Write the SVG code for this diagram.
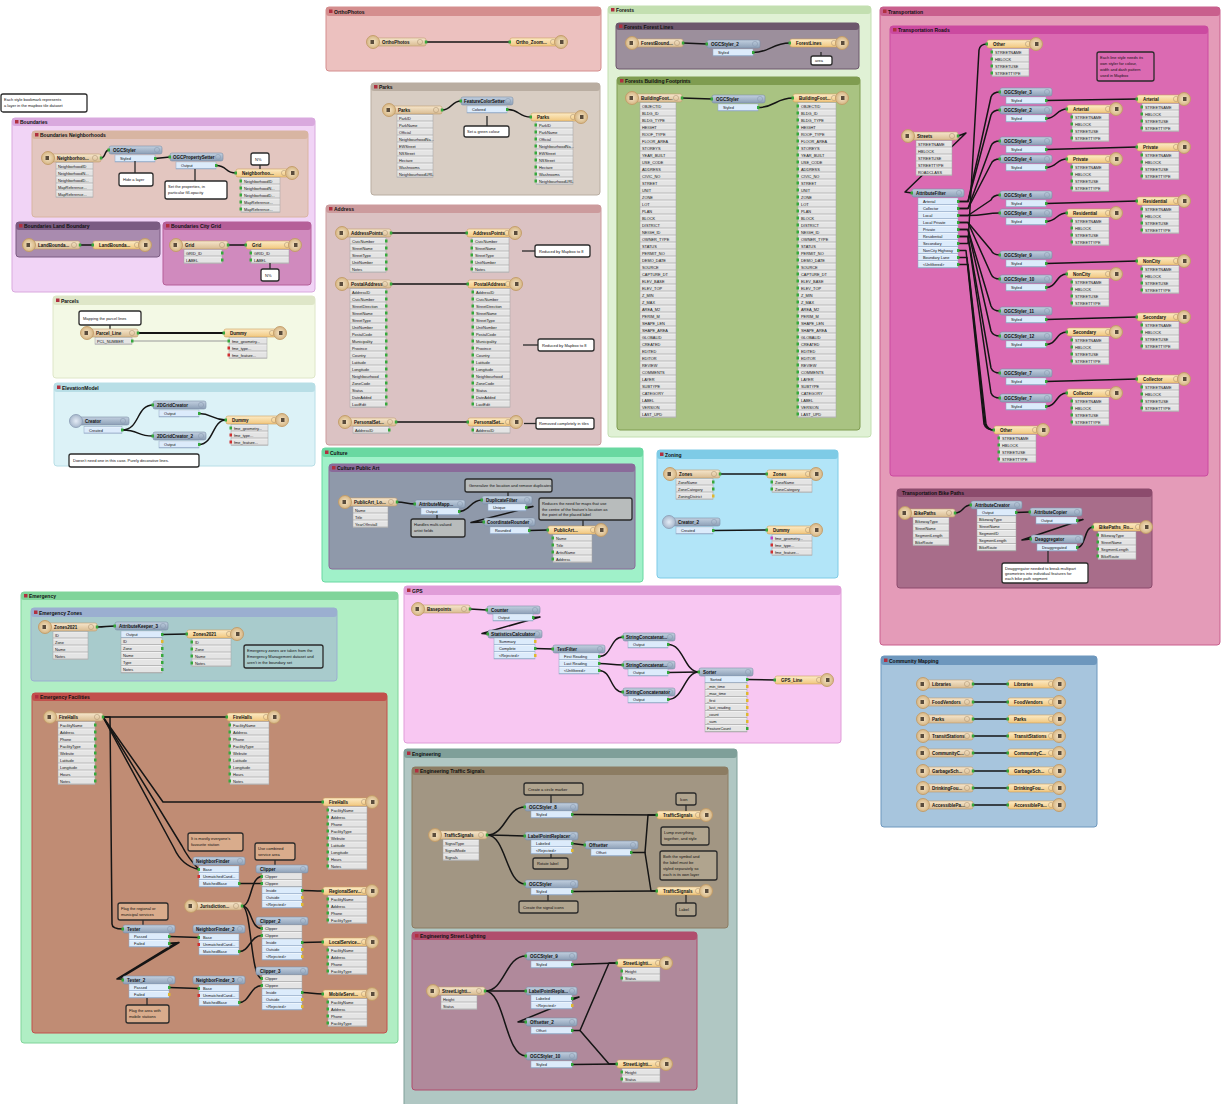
<svg xmlns="http://www.w3.org/2000/svg" width="1225" height="1104" viewBox="0 0 1225 1104">
<defs>
<linearGradient id="gr" x1="0" y1="0" x2="0" y2="1"><stop offset="0" stop-color="#f6e6cc"/><stop offset="1" stop-color="#d9bc92"/></linearGradient>
<linearGradient id="gw" x1="0" y1="0" x2="0" y2="1"><stop offset="0" stop-color="#fcebc6"/><stop offset="1" stop-color="#f1c77e"/></linearGradient>
<radialGradient id="gc"><stop offset="0" stop-color="#f5e4c6"/><stop offset="1" stop-color="#d6b684"/></radialGradient>
<radialGradient id="gcb"><stop offset="0" stop-color="#e4ecf6"/><stop offset="1" stop-color="#a8b8cc"/></radialGradient>
<linearGradient id="gt" x1="0" y1="0" x2="0" y2="1"><stop offset="0" stop-color="#c2d0e0"/><stop offset="1" stop-color="#8c9fb6"/></linearGradient>
<pattern id="pr" width="7" height="7" patternUnits="userSpaceOnUse"><rect width="7" height="7" fill="#e4e4e4"/><rect y="6.3" width="7" height=".7" fill="#a6a6a6"/><rect width="7" height=".6" fill="#fafafa"/></pattern>
<pattern id="pb" width="7" height="7" patternUnits="userSpaceOnUse"><rect width="7" height="7" fill="#dcebfb"/><rect y="6.3" width="7" height=".7" fill="#93aac6"/><rect width="7" height=".6" fill="#f6faff"/></pattern>
<pattern id="pg" width="3" height="7" patternUnits="userSpaceOnUse"><rect y="2" width="3" height="3" fill="#36a83c"/></pattern>
</defs>
<style>
text{font-family:"Liberation Sans",Arial,sans-serif;fill:#111}
.b{font-size:5px;font-weight:bold}
.n{font-size:4.5px;font-weight:bold}
.a{font-size:3.9px}
.at{font-size:4px}
.an{stroke:#2a2a2a;stroke-width:1.3}
.tl{stroke:#2a2a2a;stroke-width:1.3}
.rd{fill:url(#gr);stroke:#c09a6c;stroke-width:.6}
.wr{fill:url(#gw);stroke:#cf9f5a;stroke-width:.6}
.ci{fill:url(#gc);stroke:#c29b66;stroke-width:.9}
.cb{fill:url(#gcb);stroke:#8ea0b8;stroke-width:.9}
.th{fill:url(#gt);stroke:#7c8ea6;stroke-width:.6}
.ic{fill:#5a4c3c}
.k{fill:none;stroke:#b39a78;stroke-width:.6}
.kt{fill:none;stroke:#8c9cb2;stroke-width:.6}
.g{fill:#36a83c}
.ro{fill:url(#pr);stroke:#a3a3a3;stroke-width:.5}
.bo{fill:url(#pb);stroke:#8fa6c2;stroke-width:.5}
.pg{fill:url(#pg)}
.py{fill:#e0b830}
.pr{fill:#d03030}
.pm{fill:#c040c0}
.bi{fill:#b03040}
</style>

<g id="bookmarks">
<g id="bm-boundaries"><rect x="12" y="118" width="303" height="174" rx="3" fill="#f1d4f6" stroke="#d9a9de"/><rect x="12" y="118" width="303" height="8" rx="3" fill="#d9a9de"/><rect class="bi" x="15" y="120" width="3.5" height="3.5"/><text class="b" x="20" y="124">Boundaries</text></g>
<g id="bm-neighborhoods"><rect x="32" y="131" width="276" height="86" rx="3" fill="#e3c6c0" stroke="#d8b5a2"/><rect x="32" y="131" width="276" height="8" rx="3" fill="#d8b5a2"/><rect class="bi" x="35" y="133" width="3.5" height="3.5"/><text class="b" x="40" y="137">Boundaries Neighborhoods</text></g>
<g id="bm-landboundary"><rect x="16" y="222" width="144" height="35" rx="3" fill="#a98baf" stroke="#7b5b82"/><rect x="16" y="222" width="144" height="8" rx="3" fill="#7b5b82"/><rect class="bi" x="19" y="224" width="3.5" height="3.5"/><text class="b" x="24" y="228">Boundaries Land Boundary</text></g>
<g id="bm-citygrid"><rect x="163" y="222" width="148" height="63" rx="3" fill="#d08abe" stroke="#b55f99"/><rect x="163" y="222" width="148" height="8" rx="3" fill="#b55f99"/><rect class="bi" x="166" y="224" width="3.5" height="3.5"/><text class="b" x="171" y="228">Boundaries City Grid</text></g>
<g id="bm-parcels"><rect x="53" y="296" width="262" height="82" rx="3" fill="#f3f9e5" stroke="#dee6c8"/><rect x="53" y="296" width="262" height="9" rx="3" fill="#dee6c8"/><rect class="bi" x="56" y="298.5" width="3.5" height="3.5"/><text class="b" x="61" y="302.5">Parcels</text></g>
<g id="bm-elevation"><rect x="54" y="383" width="261" height="83" rx="3" fill="#dcf2f7" stroke="#b8dee6"/><rect x="54" y="383" width="261" height="9" rx="3" fill="#b8dee6"/><rect class="bi" x="57" y="385.5" width="3.5" height="3.5"/><text class="b" x="62" y="389.5">ElevationModel</text></g>
<g id="bm-ortho"><rect x="326" y="7" width="275" height="64" rx="3" fill="#ecc1bf" stroke="#d48e8e"/><rect x="326" y="7" width="275" height="9" rx="3" fill="#d48e8e"/><rect class="bi" x="329" y="9.5" width="3.5" height="3.5"/><text class="b" x="334" y="13.5">OrthoPhotos</text></g>
<g id="bm-parks"><rect x="371" y="83" width="229" height="112" rx="3" fill="#d8cdc3" stroke="#b9ada1"/><rect x="371" y="83" width="229" height="8" rx="3" fill="#b9ada1"/><rect class="bi" x="374" y="85" width="3.5" height="3.5"/><text class="b" x="379" y="89">Parks</text></g>
<g id="bm-address"><rect x="326" y="205" width="275" height="240" rx="3" fill="#dbc2c3" stroke="#cc9b9d"/><rect x="326" y="205" width="275" height="8" rx="3" fill="#cc9b9d"/><rect class="bi" x="329" y="207" width="3.5" height="3.5"/><text class="b" x="334" y="211">Address</text></g>
<g id="bm-forests"><rect x="608" y="6" width="263" height="431" rx="3" fill="#e0f1d5" stroke="#c3dfb1"/><rect x="608" y="6" width="263" height="8" rx="3" fill="#c3dfb1"/><rect class="bi" x="611" y="8" width="3.5" height="3.5"/><text class="b" x="616" y="12">Forests</text></g>
<g id="bm-forestlines"><rect x="616" y="23" width="243" height="46" rx="3" fill="#9c8f9c" stroke="#6d576d"/><rect x="616" y="23" width="243" height="7" rx="3" fill="#6d576d"/><rect class="bi" x="619" y="24.5" width="3.5" height="3.5"/><text class="b" x="624" y="28.5">Forests Forest Lines</text></g>
<g id="bm-footprints"><rect x="617" y="77" width="243" height="353" rx="3" fill="#a9c382" stroke="#7f9c50"/><rect x="617" y="77" width="243" height="8" rx="3" fill="#7f9c50"/><rect class="bi" x="620" y="79" width="3.5" height="3.5"/><text class="b" x="625" y="83">Forests Building Footprints</text></g>
<g id="bm-transport"><rect x="880" y="7" width="340" height="638" rx="3" fill="#e49bb8" stroke="#c95f8d"/><rect x="880" y="7" width="340" height="9" rx="3" fill="#c95f8d"/><rect class="bi" x="883" y="9.5" width="3.5" height="3.5"/><text class="b" x="888" y="13.5">Transportation</text></g>
<g id="bm-roads"><rect x="890" y="26" width="318" height="450" rx="3" fill="#db6ab2" stroke="#cb4aa0"/><rect x="890" y="26" width="318" height="8" rx="3" fill="#cb4aa0"/><rect class="bi" x="893" y="28" width="3.5" height="3.5"/><text class="b" x="898" y="32">Transportation Roads</text></g>
<g id="bm-bike"><rect x="897" y="489" width="255" height="99" rx="3" fill="#a86d8a" stroke="#8c4b6d"/><rect x="897" y="489" width="255" height="8" rx="3" fill="#8c4b6d"/><text class="b" x="902" y="495" fill="#5a1830">Transportation Bike Paths</text></g>
<g id="bm-culture"><rect x="322" y="448" width="321" height="134" rx="3" fill="#a0f1c9" stroke="#69d8a1"/><rect x="322" y="448" width="321" height="9" rx="3" fill="#69d8a1"/><rect class="bi" x="325" y="450.5" width="3.5" height="3.5"/><text class="b" x="330" y="454.5">Culture</text></g>
<g id="bm-publicart"><rect x="329" y="464" width="306" height="105" rx="3" fill="#8f99aa" stroke="#8a6b9a"/><rect x="329" y="464" width="306" height="8" rx="3" fill="#8a6b9a"/><rect class="bi" x="332" y="466" width="3.5" height="3.5"/><text class="b" x="337" y="470">Culture Public Art</text></g>
<g id="bm-zoning"><rect x="657" y="450" width="181" height="128" rx="3" fill="#b2e5f8" stroke="#7ecbe6"/><rect x="657" y="450" width="181" height="9" rx="3" fill="#7ecbe6"/><rect class="bi" x="660" y="452.5" width="3.5" height="3.5"/><text class="b" x="665" y="456.5">Zoning</text></g>
<g id="bm-emergency"><rect x="21" y="592" width="377" height="451" rx="3" fill="#b0eec4" stroke="#80d49a"/><rect x="21" y="592" width="377" height="8" rx="3" fill="#80d49a"/><rect class="bi" x="24" y="594" width="3.5" height="3.5"/><text class="b" x="29" y="598">Emergency</text></g>
<g id="bm-ezones"><rect x="31" y="608" width="306" height="73" rx="3" fill="#a8cbcc" stroke="#9bafd0"/><rect x="31" y="608" width="306" height="9" rx="3" fill="#9bafd0"/><rect class="bi" x="34" y="610.5" width="3.5" height="3.5"/><text class="b" x="39" y="614.5">Emergency Zones</text></g>
<g id="bm-efacilities"><rect x="32" y="693" width="355" height="340" rx="3" fill="#c08c74" stroke="#c2504c"/><rect x="32" y="693" width="355" height="8" rx="3" fill="#c2504c"/><rect class="bi" x="35" y="695" width="3.5" height="3.5"/><text class="b" x="40" y="699">Emergency Facilities</text></g>
<g id="bm-gps"><rect x="404" y="586" width="437" height="157" rx="3" fill="#f8c7f2" stroke="#e09dd8"/><rect x="404" y="586" width="437" height="9" rx="3" fill="#e09dd8"/><rect class="bi" x="407" y="588.5" width="3.5" height="3.5"/><text class="b" x="412" y="592.5">GPS</text></g>
<g id="bm-engineering"><rect x="404" y="749" width="333" height="360" rx="3" fill="#b0c7c3" stroke="#7f9f99"/><rect x="404" y="749" width="333" height="9" rx="3" fill="#7f9f99"/><rect class="bi" x="407" y="751.5" width="3.5" height="3.5"/><text class="b" x="412" y="755.5">Engineering</text></g>
<g id="bm-signals"><rect x="412" y="767" width="316" height="161" rx="3" fill="#a29683" stroke="#8c7c62"/><rect x="412" y="767" width="316" height="8" rx="3" fill="#8c7c62"/><rect class="bi" x="415" y="769" width="3.5" height="3.5"/><text class="b" x="420" y="773">Engineering Traffic Signals</text></g>
<g id="bm-lighting"><rect x="412" y="932" width="285" height="158" rx="3" fill="#b0899b" stroke="#b04d6d"/><rect x="412" y="932" width="285" height="8" rx="3" fill="#b04d6d"/><rect class="bi" x="415" y="934" width="3.5" height="3.5"/><text class="b" x="420" y="938">Engineering Street Lighting</text></g>
<g id="bm-community"><rect x="881" y="656" width="216" height="171" rx="3" fill="#a7c5dd" stroke="#6d97bd"/><rect x="881" y="656" width="216" height="9" rx="3" fill="#6d97bd"/><rect class="bi" x="884" y="658.5" width="3.5" height="3.5"/><text class="b" x="889" y="662.5">Community Mapping</text></g>
</g>

<g id="connectors" fill="none" stroke="#151515" stroke-width="1.5" stroke-linejoin="round" stroke-linecap="round">
<path d="M101,158 C106,158 104,150 109,150"/>
<path d="M155,158.5 L170,157"/>
<path d="M216,165.5 C228,165.5 224,173 236,173"/>
<path d="M80,245 L93,245"/>
<path d="M228,245 L246,245"/>
<path d="M138,333 L224,333" stroke-width="2.2"/>
<path d="M132,341 L229,341" stroke="#9a9a9a" stroke-width="1.2"/>
<path d="M122,430 C140,430 136,405 153,405"/>
<path d="M122,430 C140,430 136,436 153,436"/>
<path d="M199,413.5 C212,413.5 212,420 226,420"/>
<path d="M199,444.5 C214,444.5 212,420 226,420"/>
<path d="M426,42 L510,42"/>
<path d="M442,110 C452,110 451,101 461,101"/>
<path d="M507,109.5 C520,109.5 518,117 531,117"/>
<path d="M391,233 L467,233"/>
<path d="M391,284 L468,284"/>
<path d="M396,422 L468,422"/>
<path d="M683,43 L707,44"/>
<path d="M753,52.5 C770,52.5 772,43 790,43"/>
<path d="M682,98 L712,99"/>
<path d="M758,107.5 C775,107.5 776,98 793,98"/>
<path d="M958,136 L966,133 L905,192 L912,193"/>
<path d="M958,201.5 L968,201.5 L991,97 Q993,92 1000,92"/>
<path d="M958,201.5 L968,201.5 L991,115 Q993,110 1000,110"/>
<path d="M958,208.5 L968,208.5 L991,146 Q993,141 1000,141"/>
<path d="M958,208.5 L968,208.5 L991,164 Q993,159 1000,159"/>
<path d="M958,215.5 L968,215.5 L991,200 Q993,195 1000,195"/>
<path d="M958,215.5 L968,215.5 C985,215.5 985,213 1000,213"/>
<path d="M958,222.5 L968,222.5 L991,250 Q993,255 1000,255"/>
<path d="M958,222.5 L968,222.5 L991,274 Q993,279 1000,279"/>
<path d="M958,229.5 L968,229.5 L991,306 Q993,311 1000,311"/>
<path d="M958,229.5 L968,229.5 L991,331 Q993,336 1000,336"/>
<path d="M958,236.5 L968,236.5 L991,368 Q993,373 1000,373"/>
<path d="M958,236.5 L968,236.5 L991,393 Q993,398 1000,398"/>
<path d="M958,243.5 L968,243.5 L979,50 Q980,44 987,44"/>
<path d="M958,250.5 L966,250.5 L984,424 Q986,430 994,430"/>
<path d="M958,257.5 L967,257.5 L985,424 Q987,430 994,430"/>
<path d="M958,264.5 L968,264.5 L986,424 Q988,430 994,430"/>
<path d="M1046,100.5 L1137,99"/>
<path d="M1046,118.5 C1057,118.5 1056,109 1067,109"/>
<path d="M1046,149.5 L1137,147"/>
<path d="M1046,167.5 C1057,167.5 1056,159 1067,159"/>
<path d="M1046,203.5 L1137,201"/>
<path d="M1046,221.5 C1057,221.5 1056,213 1067,213"/>
<path d="M1046,263.5 L1137,261"/>
<path d="M1046,287.5 C1057,287.5 1056,274 1067,274"/>
<path d="M1046,319.5 L1137,317"/>
<path d="M1046,344.5 C1057,344.5 1056,332 1067,332"/>
<path d="M1046,381.5 L1137,379"/>
<path d="M1046,406.5 C1057,406.5 1056,393 1067,393"/>
<path d="M955,513 C964,513 962,505 971,505"/>
<path d="M1016,512.5 L1030,512"/>
<path d="M1077,520.5 L1083,519.5 L1022,540 L1031,539"/>
<path d="M1077,547.5 C1086,547.5 1084,527 1093,527"/>
<path d="M397,502 C406,502 406,504 415,504"/>
<path d="M459,511.5 C470,511.5 470,500 482,500"/>
<path d="M526,507.5 L533,506.5 L471,522.5 L484,522"/>
<path d="M529,530.5 L548,530"/>
<path d="M720,474 L767,474"/>
<path d="M713,530.5 L767,530"/>
<path d="M97,627 C106,627 106,626 115,626"/>
<path d="M162,634.5 L187,634"/>
<path d="M103,717 L227,717"/>
<path d="M103,717 L110,717 L112,924 Q112,929 123,929"/>
<path d="M103,717 L163,802 L323,802"/>
<path d="M103,717 L182,846 Q188,858 199,869.5"/>
<path d="M103,717 L174,848 Q182,866 199,869.5"/>
<path d="M239,883.5 L262,883.5"/>
<path d="M242,906 C252,906 250,876.5 262,876.5"/>
<path d="M242,906 C252,906 250,928.5 262,928.5"/>
<path d="M242,906 C252,906 250,978.5 262,978.5"/>
<path d="M169,936.5 L199,937.5"/>
<path d="M169,943.5 L176,943 L117,979 L123,979"/>
<path d="M169,943.5 L179,942.5 L121,977.5"/>
<path d="M169,987.5 L199,988.5"/>
<path d="M239,951.5 C250,951.5 250,935.5 262,935.5"/>
<path d="M239,1002.5 C250,1002.5 250,985.5 262,985.5"/>
<path d="M302,890.5 C312,890.5 312,891 323,891"/>
<path d="M302,942.5 L323,942"/>
<path d="M302,992.5 C312,992.5 312,994 323,994"/>
<path d="M470,609 L487,610"/>
<path d="M533,617.5 L540,617 L482,633.5 L488,634"/>
<path d="M535,648.5 L553,649"/>
<path d="M599,656.5 C612,656.5 610,637 623,637"/>
<path d="M599,663.5 C611,663.5 611,665 623,665"/>
<path d="M599,670.5 C612,670.5 610,692 623,692"/>
<path d="M668,644.5 C684,644.5 684,672 699,672"/>
<path d="M668,672.5 L699,672"/>
<path d="M668,699.5 C684,699.5 684,672 699,672"/>
<path d="M747,679.5 L775,680"/>
<path d="M487,835 C506,835 506,807 525,807"/>
<path d="M487,835 L525,836"/>
<path d="M487,835 C506,835 506,884 525,884"/>
<path d="M572,814.5 L657,815"/>
<path d="M572,843.5 L585,845"/>
<path d="M631,852.5 L645,852.5 L648,815 L657,815"/>
<path d="M645,852.5 L651,891 L657,891"/>
<path d="M572,891.5 L657,891"/>
<path d="M485,991 C505,991 505,956 526,956"/>
<path d="M485,991 L526,991"/>
<path d="M485,991 C505,991 505,1056 526,1056"/>
<path d="M572,998.5 L579,997 L518,1022 L526,1022"/>
<path d="M572,964.5 L617,963"/>
<path d="M572,1064.5 L617,1064"/>
<path d="M572,1030.5 L580,1030.5 L609,963 L617,963"/>
<path d="M580,1030.5 L609,1064 L617,1064"/>
<path d="M973,684 L1008,684"/>
<path d="M973,702 L1008,702"/>
<path d="M973,719 L1008,719"/>
<path d="M973,736 L1008,736"/>
<path d="M973,753 L1008,753"/>
<path d="M973,771 L1008,771"/>
<path d="M973,788 L1008,788"/>
<path d="M973,805 L1008,805"/>
</g>

<g id="note-top"><rect class="an" x="1" y="94" width="86" height="18" rx="2" fill="#fff"/><text class="at" x="4" y="101">Each style bookmark represents</text><text class="at" x="4" y="107">a layer in the mapbox tile dataset</text></g>

<g id="r-neighborhoods" transform="translate(48,158)"><rect class="rd" x="3" y="-4" width="50" height="8" rx="2"/><circle class="k" cx="47" r="2.6"/><circle class="ci" r="6.5"/><rect class="ic" x="-2.5" y="-2" width="3.5" height="4"/><text class="n" x="9" y="1.7">Neighborhoo...</text><rect class="g" x="51.8" y="-1.5" width="2.5" height="3"/><g transform="translate(8,4.5)"><rect class="ro" width="37" height="35"/><text class="a" x="2" y="5">NeighborhoodID<tspan x="2" dy="7">NeighborhoodN...</tspan><tspan x="2" dy="7">NeighborhoodD...</tspan><tspan x="2" dy="7">MapReference...</tspan><tspan x="2" dy="7">MapReference...</tspan></text></g></g>
<g id="t-ogcstyler-nb" transform="translate(109,146)"><rect class="th" width="53" height="8" rx="2"/><circle class="kt" cx="48" cy="4" r="2.6"/><text class="n" x="4" y="5.7">OGCStyler</text><rect class="g" x="-1.5" y="2.5" width="2.5" height="3"/><g transform="translate(6,9)"><rect class="bo" width="40" height="7"/><rect class="pg" x="39" width="2.5" height="7"/><text class="a" x="5" y="5">Styled</text></g></g>
<g id="t-propsetter-nb" transform="translate(170,153)"><rect class="th" width="53" height="8" rx="2"/><circle class="kt" cx="48" cy="4" r="2.6"/><text class="n" x="3" y="5.7">OGCPropertySetter</text><rect class="g" x="-1.5" y="2.5" width="2.5" height="3"/><g transform="translate(6,9)"><rect class="bo" width="40" height="7"/><rect class="pg" x="39" width="2.5" height="7"/><text class="a" x="5" y="5">Output</text></g></g>
<g id="w-neighborhoods" transform="translate(236,173)"><rect class="wr" y="-4" width="52" height="8" rx="2"/><circle class="k" cx="48" r="2.6"/><circle class="ci" cx="56" r="6.5"/><rect class="ic" x="55" y="-2" width="3.5" height="4"/><text class="n" x="6" y="1.7">Neighborhoo...</text><rect class="g" x="-1.5" y="-1.5" width="2.5" height="3"/><g transform="translate(5,4.5)"><rect class="ro" width="39" height="35"/><rect class="pg" x="-1.5" width="2.5" height="35"/><text class="a" x="3" y="5">NeighborhoodID<tspan x="3" dy="7">NeighborhoodN...</tspan><tspan x="3" dy="7">NeighborhoodD...</tspan><tspan x="3" dy="7">MapReference...</tspan><tspan x="3" dy="7">MapReference...</tspan></text></g></g>
<g id="note-nb-pct"><line class="tl" x1="260" y1="165" x2="260" y2="169"/><rect class="an" x="251" y="153" width="18" height="12" rx="2" fill="#fff"/><text class="at" x="255" y="160.5">N%</text></g>
<g id="note-nb-hide"><line class="tl" x1="135" y1="173" x2="135" y2="161"/><rect class="an" x="119" y="173" width="34" height="13" rx="2" fill="#fff"/><text class="at" x="123" y="181">Hide a layer</text></g>
<g id="note-nb-props"><line class="tl" x1="195" y1="181" x2="195" y2="169"/><rect class="an" x="165" y="181" width="62" height="18" rx="2" fill="#fff"/><text class="at" x="168" y="188">Set the properties, in</text><text class="at" x="168" y="194">particular fill-opacity</text></g>

<g id="r-landboundary" transform="translate(29,245)"><rect class="rd" x="3" y="-4" width="48" height="8" rx="2"/><circle class="k" cx="45" r="2.6"/><circle class="ci" r="6.5"/><rect class="ic" x="-2.5" y="-2" width="3.5" height="4"/><text class="n" x="9" y="1.7">LandBounda...</text><rect class="g" x="49.8" y="-1.5" width="2.5" height="3"/></g>
<g id="w-landboundary" transform="translate(93,245)"><rect class="wr" y="-4" width="48" height="8" rx="2"/><circle class="k" cx="44" r="2.6"/><circle class="ci" cx="52" r="6.5"/><rect class="ic" x="51" y="-2" width="3.5" height="4"/><text class="n" x="6" y="1.7">LandBounda...</text><rect class="g" x="-1.5" y="-1.5" width="2.5" height="3"/></g>

<g id="r-grid" transform="translate(176,245)"><rect class="rd" x="3" y="-4" width="49" height="8" rx="2"/><circle class="k" cx="46" r="2.6"/><circle class="ci" r="6.5"/><rect class="ic" x="-2.5" y="-2" width="3.5" height="4"/><text class="n" x="9" y="1.7">Grid</text><rect class="g" x="50.8" y="-1.5" width="2.5" height="3"/><g transform="translate(8,4.5)"><rect class="ro" width="38" height="14"/><rect class="pg" x="37" width="2.5" height="14"/><text class="a" x="2" y="5">GRID_ID<tspan x="2" dy="7">LABEL</tspan></text></g></g>
<g id="w-grid" transform="translate(246,245)"><rect class="wr" y="-4" width="45" height="8" rx="2"/><circle class="k" cx="41" r="2.6"/><circle class="ci" cx="49" r="6.5"/><rect class="ic" x="48" y="-2" width="3.5" height="4"/><text class="n" x="6" y="1.7">Grid</text><rect class="g" x="-1.5" y="-1.5" width="2.5" height="3"/><g transform="translate(5,4.5)"><rect class="ro" width="38" height="14"/><rect class="pg" x="-1.5" width="2.5" height="14"/><text class="a" x="3" y="5">GRID_ID<tspan x="3" dy="7">LABEL</tspan></text></g></g>
<g id="note-grid-pct"><line class="tl" x1="270" y1="263" x2="270" y2="269"/><rect class="an" x="261" y="269" width="18" height="12" rx="2" fill="#fff"/><text class="at" x="265" y="276.5">N%</text></g>

<g id="note-parcels"><line class="tl" x1="110" y1="325" x2="110" y2="329"/><rect class="an" x="79" y="311" width="62" height="14" rx="2" fill="#fff"/><text class="at" x="83" y="319.5">Mapping the parcel lines</text></g>
<g id="r-parcel-line" transform="translate(87,333)"><rect class="rd" x="3" y="-4" width="48" height="8" rx="2"/><circle class="k" cx="45" r="2.6"/><circle class="ci" r="6.5"/><rect class="ic" x="-2.5" y="-2" width="3.5" height="4"/><text class="n" x="9" y="1.7">Parcel_Line</text><rect class="g" x="49.8" y="-1.5" width="2.5" height="3"/><g transform="translate(8,4.5)"><rect class="ro" width="37" height="7"/><rect class="pg" x="36" width="2.5" height="7"/><text class="a" x="2" y="5">PCL_NUMBER</text></g></g>
<g id="w-parcels" transform="translate(224,333)"><rect class="wr" y="-4" width="52" height="8" rx="2"/><circle class="k" cx="48" r="2.6"/><circle class="ci" cx="56" r="6.5"/><rect class="ic" x="55" y="-2" width="3.5" height="4"/><text class="n" x="6" y="1.7">Dummy</text><rect class="g" x="-1.5" y="-1.5" width="2.5" height="3"/><g transform="translate(5,4.5)"><rect class="ro" width="38" height="21"/><rect class="g" x="-1.5" y="2" width="2.5" height="3"/><rect class="pr" x="-1.5" y="9" width="2.5" height="3"/><rect class="pr" x="-1.5" y="16" width="2.5" height="3"/><text class="a" x="3" y="5">fme_geometry...<tspan x="3" dy="7">fme_type...</tspan><tspan x="3" dy="7">fme_feature...</tspan></text></g></g>

<g id="t-creator" transform="translate(76,421)"><rect class="th" x="3" y="-4" width="50" height="8" rx="2"/><circle class="kt" cx="47" r="2.6"/><circle class="cb" r="6.5"/><text class="n" x="9" y="1.7">Creator</text><g transform="translate(8,5.5)"><rect class="bo" width="38" height="7"/><rect class="pg" x="37" width="2.5" height="7"/><text class="a" x="5" y="5">Created</text></g></g>
<g id="t-gridcreator" transform="translate(153,401)"><rect class="th" width="53" height="8" rx="2"/><circle class="kt" cx="48" cy="4" r="2.6"/><text class="n" x="4" y="5.7">2DGridCreator</text><rect class="g" x="-1.5" y="2.5" width="2.5" height="3"/><g transform="translate(6,9)"><rect class="bo" width="40" height="7"/><rect class="pg" x="39" width="2.5" height="7"/><text class="a" x="5" y="5">Output</text></g></g>
<g id="t-gridcreator2" transform="translate(153,432)"><rect class="th" width="53" height="8" rx="2"/><circle class="kt" cx="48" cy="4" r="2.6"/><text class="n" x="4" y="5.7">2DGridCreator_2</text><rect class="g" x="-1.5" y="2.5" width="2.5" height="3"/><g transform="translate(6,9)"><rect class="bo" width="40" height="7"/><rect class="pg" x="39" width="2.5" height="7"/><text class="a" x="5" y="5">Output</text></g></g>
<g id="w-elevation" transform="translate(226,420)"><rect class="wr" y="-4" width="52" height="8" rx="2"/><circle class="k" cx="48" r="2.6"/><circle class="ci" cx="56" r="6.5"/><rect class="ic" x="55" y="-2" width="3.5" height="4"/><text class="n" x="6" y="1.7">Dummy</text><rect class="g" x="-1.5" y="-1.5" width="2.5" height="3"/><g transform="translate(5,4.5)"><rect class="ro" width="37" height="21"/><rect class="g" x="-1.5" y="2" width="2.5" height="3"/><rect class="pr" x="-1.5" y="9" width="2.5" height="3"/><rect class="pr" x="-1.5" y="16" width="2.5" height="3"/><text class="a" x="3" y="5">fme_geometry...<tspan x="3" dy="7">fme_type...</tspan><tspan x="3" dy="7">fme_feature...</tspan></text></g></g>
<g id="note-elevation"><rect class="an" x="69" y="454" width="130" height="13" rx="2" fill="#fff"/><text class="at" x="73" y="462">Doesn't need one in this case. Purely decorative lines.</text></g>

<g id="r-ortho" transform="translate(373,42)"><rect class="rd" x="3" y="-4" width="50" height="8" rx="2"/><circle class="k" cx="47" r="2.6"/><circle class="ci" r="6.5"/><rect class="ic" x="-2.5" y="-2" width="3.5" height="4"/><text class="n" x="9" y="1.7">OrthoPhotos</text><rect class="g" x="51.8" y="-1.5" width="2.5" height="3"/></g>
<g id="w-ortho" transform="translate(510,42)"><rect class="wr" y="-4" width="47" height="8" rx="2"/><circle class="k" cx="43" r="2.6"/><circle class="ci" cx="51" r="6.5"/><rect class="ic" x="50" y="-2" width="3.5" height="4"/><text class="n" x="6" y="1.7">Ortho_Zoom...</text><rect class="g" x="-1.5" y="-1.5" width="2.5" height="3"/></g>

<g id="r-parks" transform="translate(389,110)"><rect class="rd" x="3" y="-4" width="50" height="8" rx="2"/><circle class="k" cx="47" r="2.6"/><circle class="ci" r="6.5"/><rect class="ic" x="-2.5" y="-2" width="3.5" height="4"/><text class="n" x="9" y="1.7">Parks</text><rect class="g" x="51.8" y="-1.5" width="2.5" height="3"/><g transform="translate(8,4.5)"><rect class="ro" width="36" height="63"/><text class="a" x="2" y="5">ParkID<tspan x="2" dy="7">ParkName</tspan><tspan x="2" dy="7">Official</tspan><tspan x="2" dy="7">NeighbourhoodNa...</tspan><tspan x="2" dy="7">EWStreet</tspan><tspan x="2" dy="7">NSStreet</tspan><tspan x="2" dy="7">Hectare</tspan><tspan x="2" dy="7">Washrooms</tspan><tspan x="2" dy="7">NeighbourhoodURL</tspan></text></g></g>
<g id="t-parkcolor" transform="translate(461,97)"><rect class="th" width="52" height="8" rx="2"/><circle class="kt" cx="47" cy="4" r="2.6"/><text class="n" x="3" y="5.7">FeatureColorSetter</text><rect class="g" x="-1.5" y="2.5" width="2.5" height="3"/><g transform="translate(6,9)"><rect class="bo" width="40" height="7"/><rect class="pg" x="39" width="2.5" height="7"/><text class="a" x="5" y="5">Colored</text></g></g>
<g id="w-parks" transform="translate(531,117)"><rect class="wr" y="-4" width="46" height="8" rx="2"/><circle class="k" cx="42" r="2.6"/><circle class="ci" cx="50" r="6.5"/><rect class="ic" x="49" y="-2" width="3.5" height="4"/><text class="n" x="6" y="1.7">Parks</text><rect class="g" x="-1.5" y="-1.5" width="2.5" height="3"/><g transform="translate(5,4.5)"><rect class="ro" width="37" height="63"/><rect class="pg" x="-1.5" width="2.5" height="63"/><text class="a" x="3" y="5">ParkID<tspan x="3" dy="7">ParkName</tspan><tspan x="3" dy="7">Official</tspan><tspan x="3" dy="7">NeighbourhoodNa...</tspan><tspan x="3" dy="7">EWStreet</tspan><tspan x="3" dy="7">NSStreet</tspan><tspan x="3" dy="7">Hectare</tspan><tspan x="3" dy="7">Washrooms</tspan><tspan x="3" dy="7">NeighbourhoodURL</tspan></text></g></g>
<g id="note-parks"><line class="tl" x1="487" y1="126" x2="487" y2="116"/><rect class="an" x="464" y="126" width="45" height="11" rx="2" fill="#fff"/><text class="at" x="467" y="133">Set a green colour</text></g>

<g id="r-addresspoints" transform="translate(342,233)"><rect class="rd" x="3" y="-4" width="46" height="8" rx="2"/><circle class="k" cx="43" r="2.6"/><circle class="ci" r="6.5"/><rect class="ic" x="-2.5" y="-2" width="3.5" height="4"/><text class="n" x="9" y="1.7">AddressPoints</text><rect class="g" x="47.8" y="-1.5" width="2.5" height="3"/><g transform="translate(8,4.5)"><rect class="ro" width="36" height="35"/><rect class="pg" x="35" width="2.5" height="35"/><text class="a" x="2" y="5">CivicNumber<tspan x="2" dy="7">StreetName</tspan><tspan x="2" dy="7">StreetType</tspan><tspan x="2" dy="7">UnitNumber</tspan><tspan x="2" dy="7">Notes</tspan></text></g></g>
<g id="w-addresspoints" transform="translate(467,233)"><rect class="wr" y="-4" width="44" height="8" rx="2"/><circle class="k" cx="40" r="2.6"/><circle class="ci" cx="48" r="6.5"/><rect class="ic" x="47" y="-2" width="3.5" height="4"/><text class="n" x="6" y="1.7">AddressPoints</text><rect class="g" x="-1.5" y="-1.5" width="2.5" height="3"/><g transform="translate(5,4.5)"><rect class="ro" width="37" height="35"/><rect class="pg" x="-1.5" width="2.5" height="35"/><text class="a" x="3" y="5">CivicNumber<tspan x="3" dy="7">StreetName</tspan><tspan x="3" dy="7">StreetType</tspan><tspan x="3" dy="7">UnitNumber</tspan><tspan x="3" dy="7">Notes</tspan></text></g></g>
<g id="r-postaladdress" transform="translate(342,284)"><rect class="rd" x="3" y="-4" width="46" height="8" rx="2"/><circle class="k" cx="43" r="2.6"/><circle class="ci" r="6.5"/><rect class="ic" x="-2.5" y="-2" width="3.5" height="4"/><text class="n" x="9" y="1.7">PostalAddress</text><rect class="g" x="47.8" y="-1.5" width="2.5" height="3"/><g transform="translate(8,4.5)"><rect class="ro" width="36" height="119"/><rect class="pg" x="35" width="2.5" height="119"/><text class="a" x="2" y="5">AddressID<tspan x="2" dy="7">CivicNumber</tspan><tspan x="2" dy="7">StreetDirection</tspan><tspan x="2" dy="7">StreetName</tspan><tspan x="2" dy="7">StreetType</tspan><tspan x="2" dy="7">UnitNumber</tspan><tspan x="2" dy="7">PostalCode</tspan><tspan x="2" dy="7">Municipality</tspan><tspan x="2" dy="7">Province</tspan><tspan x="2" dy="7">Country</tspan><tspan x="2" dy="7">Latitude</tspan><tspan x="2" dy="7">Longitude</tspan><tspan x="2" dy="7">Neighbourhood</tspan><tspan x="2" dy="7">ZoneCode</tspan><tspan x="2" dy="7">Status</tspan><tspan x="2" dy="7">DateAdded</tspan><tspan x="2" dy="7">LastEdit</tspan></text></g></g>
<g id="w-postaladdress" transform="translate(468,284)"><rect class="wr" y="-4" width="44" height="8" rx="2"/><circle class="k" cx="40" r="2.6"/><circle class="ci" cx="48" r="6.5"/><rect class="ic" x="47" y="-2" width="3.5" height="4"/><text class="n" x="6" y="1.7">PostalAddress</text><rect class="g" x="-1.5" y="-1.5" width="2.5" height="3"/><g transform="translate(5,4.5)"><rect class="ro" width="37" height="119"/><rect class="pg" x="-1.5" width="2.5" height="119"/><text class="a" x="3" y="5">AddressID<tspan x="3" dy="7">CivicNumber</tspan><tspan x="3" dy="7">StreetDirection</tspan><tspan x="3" dy="7">StreetName</tspan><tspan x="3" dy="7">StreetType</tspan><tspan x="3" dy="7">UnitNumber</tspan><tspan x="3" dy="7">PostalCode</tspan><tspan x="3" dy="7">Municipality</tspan><tspan x="3" dy="7">Province</tspan><tspan x="3" dy="7">Country</tspan><tspan x="3" dy="7">Latitude</tspan><tspan x="3" dy="7">Longitude</tspan><tspan x="3" dy="7">Neighbourhood</tspan><tspan x="3" dy="7">ZoneCode</tspan><tspan x="3" dy="7">Status</tspan><tspan x="3" dy="7">DateAdded</tspan><tspan x="3" dy="7">LastEdit</tspan></text></g></g>
<g id="r-personalset" transform="translate(345,422)"><rect class="rd" x="3" y="-4" width="48" height="8" rx="2"/><circle class="k" cx="45" r="2.6"/><circle class="ci" r="6.5"/><rect class="ic" x="-2.5" y="-2" width="3.5" height="4"/><text class="n" x="9" y="1.7">PersonalSet...</text><rect class="g" x="49.8" y="-1.5" width="2.5" height="3"/><g transform="translate(8,4.5)"><rect class="ro" width="36" height="7"/><rect class="pg" x="35" width="2.5" height="7"/><text class="a" x="2" y="5">AddressID</text></g></g>
<g id="w-personalset" transform="translate(468,422)"><rect class="wr" y="-4" width="44" height="8" rx="2"/><circle class="k" cx="40" r="2.6"/><circle class="ci" cx="48" r="6.5"/><rect class="ic" x="47" y="-2" width="3.5" height="4"/><text class="n" x="6" y="1.7">PersonalSet...</text><rect class="g" x="-1.5" y="-1.5" width="2.5" height="3"/><g transform="translate(5,4.5)"><rect class="ro" width="37" height="7"/><rect class="pg" x="-1.5" width="2.5" height="7"/><text class="a" x="3" y="5">AddressID</text></g></g>
<g id="note-addr1"><line class="tl" x1="522" y1="251" x2="535" y2="251"/><rect class="an" x="535" y="245" width="55" height="12" rx="2" fill="#fff"/><text class="at" x="539" y="252.5">Reduced by Mapbox to 8</text></g>
<g id="note-addr2"><line class="tl" x1="523" y1="345" x2="538" y2="345"/><rect class="an" x="538" y="339" width="56" height="12" rx="2" fill="#fff"/><text class="at" x="542" y="346.5">Reduced by Mapbox to 8</text></g>
<g id="note-addr3"><line class="tl" x1="524" y1="423.5" x2="536" y2="423.5"/><rect class="an" x="536" y="418" width="58" height="11" rx="2" fill="#fff"/><text class="at" x="539" y="425">Removed completely in tiles</text></g>

<g id="r-forestbound" transform="translate(632,43)"><rect class="rd" x="3" y="-4" width="48" height="8" rx="2"/><circle class="k" cx="45" r="2.6"/><circle class="ci" r="6.5"/><rect class="ic" x="-2.5" y="-2" width="3.5" height="4"/><text class="n" x="9" y="1.7">ForestBound...</text><rect class="g" x="49.8" y="-1.5" width="2.5" height="3"/></g>
<g id="t-ogcstyler-2" transform="translate(707,40)"><rect class="th" width="53" height="8" rx="2"/><circle class="kt" cx="48" cy="4" r="2.6"/><text class="n" x="4" y="5.7">OGCStyler_2</text><rect class="g" x="-1.5" y="2.5" width="2.5" height="3"/><g transform="translate(6,9)"><rect class="bo" width="40" height="7"/><rect class="pg" x="39" width="2.5" height="7"/><text class="a" x="5" y="5">Styled</text></g></g>
<g id="w-forestlines" transform="translate(790,43)"><rect class="wr" y="-4" width="48" height="8" rx="2"/><circle class="k" cx="44" r="2.6"/><circle class="ci" cx="52" r="6.5"/><rect class="ic" x="51" y="-2" width="3.5" height="4"/><text class="n" x="6" y="1.7">ForestLines</text><rect class="g" x="-1.5" y="-1.5" width="2.5" height="3"/></g>
<g id="note-forest"><line class="tl" x1="821" y1="52" x2="821" y2="56"/><rect class="an" x="811" y="56" width="21" height="9" rx="2" fill="#fff"/><text class="at" x="815" y="62">area</text></g>

<g id="r-footprints" transform="translate(632,98)"><rect class="rd" x="3" y="-4" width="47" height="8" rx="2"/><circle class="k" cx="44" r="2.6"/><circle class="ci" r="6.5"/><rect class="ic" x="-2.5" y="-2" width="3.5" height="4"/><text class="n" x="9" y="1.7">BuildingFoot...</text><rect class="g" x="48.8" y="-1.5" width="2.5" height="3"/><g transform="translate(8,4.5)"><rect class="ro" width="36" height="315"/><text class="a" x="2" y="5">OBJECTID<tspan x="2" dy="7">BLDG_ID</tspan><tspan x="2" dy="7">BLDG_TYPE</tspan><tspan x="2" dy="7">HEIGHT</tspan><tspan x="2" dy="7">ROOF_TYPE</tspan><tspan x="2" dy="7">FLOOR_AREA</tspan><tspan x="2" dy="7">STOREYS</tspan><tspan x="2" dy="7">YEAR_BUILT</tspan><tspan x="2" dy="7">USE_CODE</tspan><tspan x="2" dy="7">ADDRESS</tspan><tspan x="2" dy="7">CIVIC_NO</tspan><tspan x="2" dy="7">STREET</tspan><tspan x="2" dy="7">UNIT</tspan><tspan x="2" dy="7">ZONE</tspan><tspan x="2" dy="7">LOT</tspan><tspan x="2" dy="7">PLAN</tspan><tspan x="2" dy="7">BLOCK</tspan><tspan x="2" dy="7">DISTRICT</tspan><tspan x="2" dy="7">NEIGH_ID</tspan><tspan x="2" dy="7">OWNER_TYPE</tspan><tspan x="2" dy="7">STATUS</tspan><tspan x="2" dy="7">PERMIT_NO</tspan><tspan x="2" dy="7">DEMO_DATE</tspan><tspan x="2" dy="7">SOURCE</tspan><tspan x="2" dy="7">CAPTURE_DT</tspan><tspan x="2" dy="7">ELEV_BASE</tspan><tspan x="2" dy="7">ELEV_TOP</tspan><tspan x="2" dy="7">Z_MIN</tspan><tspan x="2" dy="7">Z_MAX</tspan><tspan x="2" dy="7">AREA_M2</tspan><tspan x="2" dy="7">PERIM_M</tspan><tspan x="2" dy="7">SHAPE_LEN</tspan><tspan x="2" dy="7">SHAPE_AREA</tspan><tspan x="2" dy="7">GLOBALID</tspan><tspan x="2" dy="7">CREATED</tspan><tspan x="2" dy="7">EDITED</tspan><tspan x="2" dy="7">EDITOR</tspan><tspan x="2" dy="7">REVIEW</tspan><tspan x="2" dy="7">COMMENTS</tspan><tspan x="2" dy="7">LAYER</tspan><tspan x="2" dy="7">SUBTYPE</tspan><tspan x="2" dy="7">CATEGORY</tspan><tspan x="2" dy="7">LABEL</tspan><tspan x="2" dy="7">VERSION</tspan><tspan x="2" dy="7">LAST_UPD</tspan></text></g></g>
<g id="t-ogcstyler-bf" transform="translate(712,95)"><rect class="th" width="53" height="8" rx="2"/><circle class="kt" cx="48" cy="4" r="2.6"/><text class="n" x="4" y="5.7">OGCStyler</text><rect class="g" x="-1.5" y="2.5" width="2.5" height="3"/><g transform="translate(6,9)"><rect class="bo" width="40" height="7"/><rect class="pg" x="39" width="2.5" height="7"/><text class="a" x="5" y="5">Styled</text></g></g>
<g id="w-footprints" transform="translate(793,98)"><rect class="wr" y="-4" width="45" height="8" rx="2"/><circle class="k" cx="41" r="2.6"/><circle class="ci" cx="49" r="6.5"/><rect class="ic" x="48" y="-2" width="3.5" height="4"/><text class="n" x="6" y="1.7">BuildingFoot...</text><rect class="g" x="-1.5" y="-1.5" width="2.5" height="3"/><g transform="translate(5,4.5)"><rect class="ro" width="38" height="315"/><rect class="pg" x="-1.5" width="2.5" height="315"/><text class="a" x="3" y="5">OBJECTID<tspan x="3" dy="7">BLDG_ID</tspan><tspan x="3" dy="7">BLDG_TYPE</tspan><tspan x="3" dy="7">HEIGHT</tspan><tspan x="3" dy="7">ROOF_TYPE</tspan><tspan x="3" dy="7">FLOOR_AREA</tspan><tspan x="3" dy="7">STOREYS</tspan><tspan x="3" dy="7">YEAR_BUILT</tspan><tspan x="3" dy="7">USE_CODE</tspan><tspan x="3" dy="7">ADDRESS</tspan><tspan x="3" dy="7">CIVIC_NO</tspan><tspan x="3" dy="7">STREET</tspan><tspan x="3" dy="7">UNIT</tspan><tspan x="3" dy="7">ZONE</tspan><tspan x="3" dy="7">LOT</tspan><tspan x="3" dy="7">PLAN</tspan><tspan x="3" dy="7">BLOCK</tspan><tspan x="3" dy="7">DISTRICT</tspan><tspan x="3" dy="7">NEIGH_ID</tspan><tspan x="3" dy="7">OWNER_TYPE</tspan><tspan x="3" dy="7">STATUS</tspan><tspan x="3" dy="7">PERMIT_NO</tspan><tspan x="3" dy="7">DEMO_DATE</tspan><tspan x="3" dy="7">SOURCE</tspan><tspan x="3" dy="7">CAPTURE_DT</tspan><tspan x="3" dy="7">ELEV_BASE</tspan><tspan x="3" dy="7">ELEV_TOP</tspan><tspan x="3" dy="7">Z_MIN</tspan><tspan x="3" dy="7">Z_MAX</tspan><tspan x="3" dy="7">AREA_M2</tspan><tspan x="3" dy="7">PERIM_M</tspan><tspan x="3" dy="7">SHAPE_LEN</tspan><tspan x="3" dy="7">SHAPE_AREA</tspan><tspan x="3" dy="7">GLOBALID</tspan><tspan x="3" dy="7">CREATED</tspan><tspan x="3" dy="7">EDITED</tspan><tspan x="3" dy="7">EDITOR</tspan><tspan x="3" dy="7">REVIEW</tspan><tspan x="3" dy="7">COMMENTS</tspan><tspan x="3" dy="7">LAYER</tspan><tspan x="3" dy="7">SUBTYPE</tspan><tspan x="3" dy="7">CATEGORY</tspan><tspan x="3" dy="7">LABEL</tspan><tspan x="3" dy="7">VERSION</tspan><tspan x="3" dy="7">LAST_UPD</tspan></text></g></g>

<g id="note-roads"><rect class="an" x="1097" y="52" width="57" height="29" rx="2" fill="none"/><text class="at" x="1100" y="59">Each line style needs its</text><text class="at" x="1100" y="65">own styler for colour,</text><text class="at" x="1100" y="71">width and dash pattern</text><text class="at" x="1100" y="77">used in Mapbox</text></g>
<g id="r-streets" transform="translate(908,136)"><rect class="rd" x="3" y="-4" width="47" height="8" rx="2"/><circle class="k" cx="44" r="2.6"/><circle class="ci" r="6.5"/><rect class="ic" x="-2.5" y="-2" width="3.5" height="4"/><text class="n" x="9" y="1.7">Streets</text><rect class="g" x="48.8" y="-1.5" width="2.5" height="3"/><g transform="translate(8,4.5)"><rect class="ro" width="36" height="35"/><text class="a" x="2" y="5">STREETNAME<tspan x="2" dy="7">HBLOCK</tspan><tspan x="2" dy="7">STREETUSE</tspan><tspan x="2" dy="7">STREETTYPE</tspan><tspan x="2" dy="7">ROADCLASS</tspan></text></g></g>
<g id="t-attrfilter" transform="translate(912,189)"><rect class="th" width="52" height="8" rx="2"/><circle class="kt" cx="47" cy="4" r="2.6"/><text class="n" x="4" y="5.7">AttributeFilter</text><rect class="g" x="-1.5" y="2.5" width="2.5" height="3"/><g transform="translate(6,9)"><rect class="bo" width="40" height="70"/><rect class="pg" x="39" width="2.5" height="70"/><text class="a" x="5" y="5">Arterial<tspan x="5" dy="7">Collector</tspan><tspan x="5" dy="7">Local</tspan><tspan x="5" dy="7">Local Private</tspan><tspan x="5" dy="7">Private</tspan><tspan x="5" dy="7">Residential</tspan><tspan x="5" dy="7">Secondary</tspan><tspan x="5" dy="7">NonCity Highway</tspan><tspan x="5" dy="7">Boundary Lane</tspan><tspan x="5" dy="7">&lt;Unfiltered&gt;</tspan></text></g></g>

<g id="w-other-top" transform="translate(987,44)"><rect class="wr" y="-4" width="45" height="8" rx="2"/><circle class="k" cx="41" r="2.6"/><circle class="ci" cx="49" r="6.5"/><rect class="ic" x="48" y="-2" width="3.5" height="4"/><text class="n" x="6" y="1.7">Other</text><rect class="g" x="-1.5" y="-1.5" width="2.5" height="3"/><g transform="translate(5,4.5)"><rect class="ro" width="37" height="28"/><rect class="pg" x="-1.5" width="2.5" height="28"/><text class="a" x="3" y="5">STREETNAME<tspan x="3" dy="7">HBLOCK</tspan><tspan x="3" dy="7">STREETUSE</tspan><tspan x="3" dy="7">STREETTYPE</tspan></text></g></g>
<g id="w-other-bottom" transform="translate(994,430)"><rect class="wr" y="-4" width="45" height="8" rx="2"/><circle class="k" cx="41" r="2.6"/><circle class="ci" cx="49" r="6.5"/><rect class="ic" x="48" y="-2" width="3.5" height="4"/><text class="n" x="6" y="1.7">Other</text><rect class="g" x="-1.5" y="-1.5" width="2.5" height="3"/><g transform="translate(5,4.5)"><rect class="ro" width="37" height="28"/><rect class="pg" x="-1.5" width="2.5" height="28"/><text class="a" x="3" y="5">STREETNAME<tspan x="3" dy="7">HBLOCK</tspan><tspan x="3" dy="7">STREETUSE</tspan><tspan x="3" dy="7">STREETTYPE</tspan></text></g></g>

<g id="t-styler-r1" transform="translate(1000,88)"><rect class="th" width="52" height="8" rx="2"/><circle class="kt" cx="47" cy="4" r="2.6"/><text class="n" x="4" y="5.7">OGCStyler_3</text><rect class="g" x="-1.5" y="2.5" width="2.5" height="3"/><g transform="translate(6,9)"><rect class="bo" width="40" height="7"/><rect class="pg" x="39" width="2.5" height="7"/><text class="a" x="5" y="5">Styled</text></g></g>
<g id="t-styler-r2" transform="translate(1000,106)"><rect class="th" width="52" height="8" rx="2"/><circle class="kt" cx="47" cy="4" r="2.6"/><text class="n" x="4" y="5.7">OGCStyler_2</text><rect class="g" x="-1.5" y="2.5" width="2.5" height="3"/><g transform="translate(6,9)"><rect class="bo" width="40" height="7"/><rect class="pg" x="39" width="2.5" height="7"/><text class="a" x="5" y="5">Styled</text></g></g>
<g id="t-styler-r3" transform="translate(1000,137)"><rect class="th" width="52" height="8" rx="2"/><circle class="kt" cx="47" cy="4" r="2.6"/><text class="n" x="4" y="5.7">OGCStyler_5</text><rect class="g" x="-1.5" y="2.5" width="2.5" height="3"/><g transform="translate(6,9)"><rect class="bo" width="40" height="7"/><rect class="pg" x="39" width="2.5" height="7"/><text class="a" x="5" y="5">Styled</text></g></g>
<g id="t-styler-r4" transform="translate(1000,155)"><rect class="th" width="52" height="8" rx="2"/><circle class="kt" cx="47" cy="4" r="2.6"/><text class="n" x="4" y="5.7">OGCStyler_4</text><rect class="g" x="-1.5" y="2.5" width="2.5" height="3"/><g transform="translate(6,9)"><rect class="bo" width="40" height="7"/><rect class="pg" x="39" width="2.5" height="7"/><text class="a" x="5" y="5">Styled</text></g></g>
<g id="t-styler-r5" transform="translate(1000,191)"><rect class="th" width="52" height="8" rx="2"/><circle class="kt" cx="47" cy="4" r="2.6"/><text class="n" x="4" y="5.7">OGCStyler_6</text><rect class="g" x="-1.5" y="2.5" width="2.5" height="3"/><g transform="translate(6,9)"><rect class="bo" width="40" height="7"/><rect class="pg" x="39" width="2.5" height="7"/><text class="a" x="5" y="5">Styled</text></g></g>
<g id="t-styler-r6" transform="translate(1000,209)"><rect class="th" width="52" height="8" rx="2"/><circle class="kt" cx="47" cy="4" r="2.6"/><text class="n" x="4" y="5.7">OGCStyler_8</text><rect class="g" x="-1.5" y="2.5" width="2.5" height="3"/><g transform="translate(6,9)"><rect class="bo" width="40" height="7"/><rect class="pg" x="39" width="2.5" height="7"/><text class="a" x="5" y="5">Styled</text></g></g>
<g id="t-styler-r7" transform="translate(1000,251)"><rect class="th" width="52" height="8" rx="2"/><circle class="kt" cx="47" cy="4" r="2.6"/><text class="n" x="4" y="5.7">OGCStyler_9</text><rect class="g" x="-1.5" y="2.5" width="2.5" height="3"/><g transform="translate(6,9)"><rect class="bo" width="40" height="7"/><rect class="pg" x="39" width="2.5" height="7"/><text class="a" x="5" y="5">Styled</text></g></g>
<g id="t-styler-r8" transform="translate(1000,275)"><rect class="th" width="52" height="8" rx="2"/><circle class="kt" cx="47" cy="4" r="2.6"/><text class="n" x="4" y="5.7">OGCStyler_10</text><rect class="g" x="-1.5" y="2.5" width="2.5" height="3"/><g transform="translate(6,9)"><rect class="bo" width="40" height="7"/><rect class="pg" x="39" width="2.5" height="7"/><text class="a" x="5" y="5">Styled</text></g></g>
<g id="t-styler-r9" transform="translate(1000,307)"><rect class="th" width="52" height="8" rx="2"/><circle class="kt" cx="47" cy="4" r="2.6"/><text class="n" x="4" y="5.7">OGCStyler_11</text><rect class="g" x="-1.5" y="2.5" width="2.5" height="3"/><g transform="translate(6,9)"><rect class="bo" width="40" height="7"/><rect class="pg" x="39" width="2.5" height="7"/><text class="a" x="5" y="5">Styled</text></g></g>
<g id="t-styler-r10" transform="translate(1000,332)"><rect class="th" width="52" height="8" rx="2"/><circle class="kt" cx="47" cy="4" r="2.6"/><text class="n" x="4" y="5.7">OGCStyler_12</text><rect class="g" x="-1.5" y="2.5" width="2.5" height="3"/><g transform="translate(6,9)"><rect class="bo" width="40" height="7"/><rect class="pg" x="39" width="2.5" height="7"/><text class="a" x="5" y="5">Styled</text></g></g>
<g id="t-styler-r11" transform="translate(1000,369)"><rect class="th" width="52" height="8" rx="2"/><circle class="kt" cx="47" cy="4" r="2.6"/><text class="n" x="4" y="5.7">OGCStyler_7</text><rect class="g" x="-1.5" y="2.5" width="2.5" height="3"/><g transform="translate(6,9)"><rect class="bo" width="40" height="7"/><rect class="pg" x="39" width="2.5" height="7"/><text class="a" x="5" y="5">Styled</text></g></g>
<g id="t-styler-r12" transform="translate(1000,394)"><rect class="th" width="52" height="8" rx="2"/><circle class="kt" cx="47" cy="4" r="2.6"/><text class="n" x="4" y="5.7">OGCStyler_7</text><rect class="g" x="-1.5" y="2.5" width="2.5" height="3"/><g transform="translate(6,9)"><rect class="bo" width="40" height="7"/><rect class="pg" x="39" width="2.5" height="7"/><text class="a" x="5" y="5">Styled</text></g></g>

<g id="w-arterial-a" transform="translate(1137,99)"><rect class="wr" y="-4" width="43" height="8" rx="2"/><circle class="k" cx="39" r="2.6"/><circle class="ci" cx="47" r="6.5"/><rect class="ic" x="46" y="-2" width="3.5" height="4"/><text class="n" x="6" y="1.7">Arterial</text><rect class="g" x="-1.5" y="-1.5" width="2.5" height="3"/><g transform="translate(5,4.5)"><rect class="ro" width="37" height="28"/><rect class="pg" x="-1.5" width="2.5" height="28"/><text class="a" x="3" y="5">STREETNAME<tspan x="3" dy="7">HBLOCK</tspan><tspan x="3" dy="7">STREETUSE</tspan><tspan x="3" dy="7">STREETTYPE</tspan></text></g></g>
<g id="w-arterial-b" transform="translate(1067,109)"><rect class="wr" y="-4" width="45" height="8" rx="2"/><circle class="k" cx="41" r="2.6"/><circle class="ci" cx="49" r="6.5"/><rect class="ic" x="48" y="-2" width="3.5" height="4"/><text class="n" x="6" y="1.7">Arterial</text><rect class="g" x="-1.5" y="-1.5" width="2.5" height="3"/><g transform="translate(5,4.5)"><rect class="ro" width="37" height="28"/><rect class="pg" x="-1.5" width="2.5" height="28"/><text class="a" x="3" y="5">STREETNAME<tspan x="3" dy="7">HBLOCK</tspan><tspan x="3" dy="7">STREETUSE</tspan><tspan x="3" dy="7">STREETTYPE</tspan></text></g></g>
<g id="w-private-a" transform="translate(1137,147)"><rect class="wr" y="-4" width="43" height="8" rx="2"/><circle class="k" cx="39" r="2.6"/><circle class="ci" cx="47" r="6.5"/><rect class="ic" x="46" y="-2" width="3.5" height="4"/><text class="n" x="6" y="1.7">Private</text><rect class="g" x="-1.5" y="-1.5" width="2.5" height="3"/><g transform="translate(5,4.5)"><rect class="ro" width="37" height="28"/><rect class="pg" x="-1.5" width="2.5" height="28"/><text class="a" x="3" y="5">STREETNAME<tspan x="3" dy="7">HBLOCK</tspan><tspan x="3" dy="7">STREETUSE</tspan><tspan x="3" dy="7">STREETTYPE</tspan></text></g></g>
<g id="w-private-b" transform="translate(1067,159)"><rect class="wr" y="-4" width="45" height="8" rx="2"/><circle class="k" cx="41" r="2.6"/><circle class="ci" cx="49" r="6.5"/><rect class="ic" x="48" y="-2" width="3.5" height="4"/><text class="n" x="6" y="1.7">Private</text><rect class="g" x="-1.5" y="-1.5" width="2.5" height="3"/><g transform="translate(5,4.5)"><rect class="ro" width="37" height="28"/><rect class="pg" x="-1.5" width="2.5" height="28"/><text class="a" x="3" y="5">STREETNAME<tspan x="3" dy="7">HBLOCK</tspan><tspan x="3" dy="7">STREETUSE</tspan><tspan x="3" dy="7">STREETTYPE</tspan></text></g></g>
<g id="w-residential-a" transform="translate(1137,201)"><rect class="wr" y="-4" width="43" height="8" rx="2"/><circle class="k" cx="39" r="2.6"/><circle class="ci" cx="47" r="6.5"/><rect class="ic" x="46" y="-2" width="3.5" height="4"/><text class="n" x="6" y="1.7">Residential</text><rect class="g" x="-1.5" y="-1.5" width="2.5" height="3"/><g transform="translate(5,4.5)"><rect class="ro" width="37" height="28"/><rect class="pg" x="-1.5" width="2.5" height="28"/><text class="a" x="3" y="5">STREETNAME<tspan x="3" dy="7">HBLOCK</tspan><tspan x="3" dy="7">STREETUSE</tspan><tspan x="3" dy="7">STREETTYPE</tspan></text></g></g>
<g id="w-residential-b" transform="translate(1067,213)"><rect class="wr" y="-4" width="45" height="8" rx="2"/><circle class="k" cx="41" r="2.6"/><circle class="ci" cx="49" r="6.5"/><rect class="ic" x="48" y="-2" width="3.5" height="4"/><text class="n" x="6" y="1.7">Residential</text><rect class="g" x="-1.5" y="-1.5" width="2.5" height="3"/><g transform="translate(5,4.5)"><rect class="ro" width="37" height="28"/><rect class="pg" x="-1.5" width="2.5" height="28"/><text class="a" x="3" y="5">STREETNAME<tspan x="3" dy="7">HBLOCK</tspan><tspan x="3" dy="7">STREETUSE</tspan><tspan x="3" dy="7">STREETTYPE</tspan></text></g></g>
<g id="w-noncity-a" transform="translate(1137,261)"><rect class="wr" y="-4" width="43" height="8" rx="2"/><circle class="k" cx="39" r="2.6"/><circle class="ci" cx="47" r="6.5"/><rect class="ic" x="46" y="-2" width="3.5" height="4"/><text class="n" x="6" y="1.7">NonCity</text><rect class="g" x="-1.5" y="-1.5" width="2.5" height="3"/><g transform="translate(5,4.5)"><rect class="ro" width="37" height="28"/><rect class="pg" x="-1.5" width="2.5" height="28"/><text class="a" x="3" y="5">STREETNAME<tspan x="3" dy="7">HBLOCK</tspan><tspan x="3" dy="7">STREETUSE</tspan><tspan x="3" dy="7">STREETTYPE</tspan></text></g></g>
<g id="w-noncity-b" transform="translate(1067,274)"><rect class="wr" y="-4" width="45" height="8" rx="2"/><circle class="k" cx="41" r="2.6"/><circle class="ci" cx="49" r="6.5"/><rect class="ic" x="48" y="-2" width="3.5" height="4"/><text class="n" x="6" y="1.7">NonCity</text><rect class="g" x="-1.5" y="-1.5" width="2.5" height="3"/><g transform="translate(5,4.5)"><rect class="ro" width="37" height="28"/><rect class="pg" x="-1.5" width="2.5" height="28"/><text class="a" x="3" y="5">STREETNAME<tspan x="3" dy="7">HBLOCK</tspan><tspan x="3" dy="7">STREETUSE</tspan><tspan x="3" dy="7">STREETTYPE</tspan></text></g></g>
<g id="w-secondary-a" transform="translate(1137,317)"><rect class="wr" y="-4" width="43" height="8" rx="2"/><circle class="k" cx="39" r="2.6"/><circle class="ci" cx="47" r="6.5"/><rect class="ic" x="46" y="-2" width="3.5" height="4"/><text class="n" x="6" y="1.7">Secondary</text><rect class="g" x="-1.5" y="-1.5" width="2.5" height="3"/><g transform="translate(5,4.5)"><rect class="ro" width="37" height="28"/><rect class="pg" x="-1.5" width="2.5" height="28"/><text class="a" x="3" y="5">STREETNAME<tspan x="3" dy="7">HBLOCK</tspan><tspan x="3" dy="7">STREETUSE</tspan><tspan x="3" dy="7">STREETTYPE</tspan></text></g></g>
<g id="w-secondary-b" transform="translate(1067,332)"><rect class="wr" y="-4" width="45" height="8" rx="2"/><circle class="k" cx="41" r="2.6"/><circle class="ci" cx="49" r="6.5"/><rect class="ic" x="48" y="-2" width="3.5" height="4"/><text class="n" x="6" y="1.7">Secondary</text><rect class="g" x="-1.5" y="-1.5" width="2.5" height="3"/><g transform="translate(5,4.5)"><rect class="ro" width="37" height="28"/><rect class="pg" x="-1.5" width="2.5" height="28"/><text class="a" x="3" y="5">STREETNAME<tspan x="3" dy="7">HBLOCK</tspan><tspan x="3" dy="7">STREETUSE</tspan><tspan x="3" dy="7">STREETTYPE</tspan></text></g></g>
<g id="w-collector-a" transform="translate(1137,379)"><rect class="wr" y="-4" width="43" height="8" rx="2"/><circle class="k" cx="39" r="2.6"/><circle class="ci" cx="47" r="6.5"/><rect class="ic" x="46" y="-2" width="3.5" height="4"/><text class="n" x="6" y="1.7">Collector</text><rect class="g" x="-1.5" y="-1.5" width="2.5" height="3"/><g transform="translate(5,4.5)"><rect class="ro" width="37" height="28"/><rect class="pg" x="-1.5" width="2.5" height="28"/><text class="a" x="3" y="5">STREETNAME<tspan x="3" dy="7">HBLOCK</tspan><tspan x="3" dy="7">STREETUSE</tspan><tspan x="3" dy="7">STREETTYPE</tspan></text></g></g>
<g id="w-collector-b" transform="translate(1067,393)"><rect class="wr" y="-4" width="45" height="8" rx="2"/><circle class="k" cx="41" r="2.6"/><circle class="ci" cx="49" r="6.5"/><rect class="ic" x="48" y="-2" width="3.5" height="4"/><text class="n" x="6" y="1.7">Collector</text><rect class="g" x="-1.5" y="-1.5" width="2.5" height="3"/><g transform="translate(5,4.5)"><rect class="ro" width="37" height="28"/><rect class="pg" x="-1.5" width="2.5" height="28"/><text class="a" x="3" y="5">STREETNAME<tspan x="3" dy="7">HBLOCK</tspan><tspan x="3" dy="7">STREETUSE</tspan><tspan x="3" dy="7">STREETTYPE</tspan></text></g></g>

<g id="r-bikepaths" transform="translate(905,513)"><rect class="rd" x="3" y="-4" width="47" height="8" rx="2"/><circle class="k" cx="44" r="2.6"/><circle class="ci" r="6.5"/><rect class="ic" x="-2.5" y="-2" width="3.5" height="4"/><text class="n" x="9" y="1.7">BikePaths</text><rect class="g" x="48.8" y="-1.5" width="2.5" height="3"/><g transform="translate(8,4.5)"><rect class="ro" width="36" height="28"/><text class="a" x="2" y="5">BikewayType<tspan x="2" dy="7">StreetName</tspan><tspan x="2" dy="7">SegmentLength</tspan><tspan x="2" dy="7">BikeRoute</tspan></text></g></g>
<g id="t-attrcreator" transform="translate(971,501)"><rect class="th" width="51" height="8" rx="2"/><circle class="kt" cx="46" cy="4" r="2.6"/><text class="n" x="4" y="5.7">AttributeCreator</text><rect class="g" x="-1.5" y="2.5" width="2.5" height="3"/><g transform="translate(6,8)"><rect class="bo" width="39" height="7"/><rect class="pg" x="38" width="2.5" height="7"/><text class="a" x="5" y="5">Output</text><rect class="ro" y="7" width="39" height="35"/><text class="a" x="2" y="12">BikewayType<tspan x="2" dy="7">StreetName</tspan><tspan x="2" dy="7">SegmentID</tspan><tspan x="2" dy="7">SegmentLength</tspan><tspan x="2" dy="7">BikeRoute</tspan></text></g></g>
<g id="t-attrcopier" transform="translate(1030,508)"><rect class="th" width="52" height="8" rx="2"/><circle class="kt" cx="47" cy="4" r="2.6"/><text class="n" x="4" y="5.7">AttributeCopier</text><rect class="g" x="-1.5" y="2.5" width="2.5" height="3"/><g transform="translate(6,9)"><rect class="bo" width="41" height="7"/><rect class="pg" x="40" width="2.5" height="7"/><text class="a" x="5" y="5">Output</text></g></g>
<g id="t-deaggregator" transform="translate(1031,535)"><rect class="th" width="52" height="8" rx="2"/><circle class="kt" cx="47" cy="4" r="2.6"/><text class="n" x="4" y="5.7">Deaggregator</text><rect class="g" x="-1.5" y="2.5" width="2.5" height="3"/><g transform="translate(6,9)"><rect class="bo" width="40" height="7"/><rect class="pg" x="39" width="2.5" height="7"/><text class="a" x="5" y="5">Deaggregated</text></g></g>
<g id="w-bikepaths" transform="translate(1093,527)"><rect class="wr" y="-4" width="49" height="8" rx="2"/><circle class="k" cx="45" r="2.6"/><circle class="ci" cx="53" r="6.5"/><rect class="ic" x="52" y="-2" width="3.5" height="4"/><text class="n" x="6" y="1.7">BikePaths_Ro...</text><rect class="g" x="-1.5" y="-1.5" width="2.5" height="3"/><g transform="translate(5,4.5)"><rect class="ro" width="38" height="28"/><rect class="pg" x="-1.5" width="2.5" height="28"/><text class="a" x="3" y="5">BikewayType<tspan x="3" dy="7">StreetName</tspan><tspan x="3" dy="7">SegmentLength</tspan><tspan x="3" dy="7">BikeRoute</tspan></text></g></g>
<g id="note-bike"><line class="tl" x1="1048" y1="563" x2="1048" y2="551"/><rect class="an" x="1002" y="563" width="86" height="20" rx="2" fill="#fff"/><text class="at" x="1005" y="569.5">Deaggregator needed to break multipart</text><text class="at" x="1005" y="574.5">geometries into individual features for</text><text class="at" x="1005" y="579.5">each bike path segment</text></g>

<g id="r-publicart" transform="translate(345,502)"><rect class="rd" x="3" y="-4" width="49" height="8" rx="2"/><circle class="k" cx="46" r="2.6"/><circle class="ci" r="6.5"/><rect class="ic" x="-2.5" y="-2" width="3.5" height="4"/><text class="n" x="9" y="1.7">PublicArt_Lo...</text><rect class="g" x="50.8" y="-1.5" width="2.5" height="3"/><g transform="translate(8,4.5)"><rect class="ro" width="35" height="21"/><text class="a" x="2" y="5">Name<tspan x="2" dy="7">Title</tspan><tspan x="2" dy="7">YearOfInstall</tspan></text></g></g>
<g id="t-attrmapper" transform="translate(415,500)"><rect class="th" width="50" height="8" rx="2"/><circle class="kt" cx="45" cy="4" r="2.6"/><text class="n" x="4" y="5.7">AttributeMapp...</text><rect class="g" x="-1.5" y="2.5" width="2.5" height="3"/><g transform="translate(6,8)"><rect class="bo" width="38" height="7"/><rect class="pg" x="37" width="2.5" height="7"/><text class="a" x="5" y="5">Output</text></g></g>
<g id="t-dupfilter" transform="translate(482,496)"><rect class="th" width="50" height="8" rx="2"/><circle class="kt" cx="45" cy="4" r="2.6"/><text class="n" x="4" y="5.7">DuplicateFilter</text><rect class="g" x="-1.5" y="2.5" width="2.5" height="3"/><g transform="translate(6,8)"><rect class="bo" width="38" height="7"/><rect class="pg" x="37" width="2.5" height="7"/><text class="a" x="5" y="5">Unique</text></g></g>
<g id="t-coordrounder" transform="translate(484,518)"><rect class="th" width="51" height="8" rx="2"/><circle class="kt" cx="46" cy="4" r="2.6"/><text class="n" x="3" y="5.7">CoordinateRounder</text><rect class="g" x="-1.5" y="2.5" width="2.5" height="3"/><g transform="translate(6,9)"><rect class="bo" width="39" height="7"/><rect class="pg" x="38" width="2.5" height="7"/><text class="a" x="5" y="5">Rounded</text></g></g>
<g id="w-publicart" transform="translate(548,530)"><rect class="wr" y="-4" width="49" height="8" rx="2"/><circle class="k" cx="45" r="2.6"/><circle class="ci" cx="53" r="6.5"/><rect class="ic" x="52" y="-2" width="3.5" height="4"/><text class="n" x="6" y="1.7">PublicArt...</text><rect class="g" x="-1.5" y="-1.5" width="2.5" height="3"/><g transform="translate(5,4.5)"><rect class="ro" width="39" height="28"/><rect class="pg" x="-1.5" width="2.5" height="28"/><text class="a" x="3" y="5">Name<tspan x="3" dy="7">Title</tspan><tspan x="3" dy="7">ArtistName</tspan><tspan x="3" dy="7">Address</tspan></text></g></g>
<g id="note-culture1"><line class="tl" x1="508" y1="492" x2="508" y2="496"/><rect class="an" x="465" y="479" width="87" height="13" rx="2" fill="#b8bcbc"/><text class="at" x="469" y="487">Generalize the location and remove duplicates</text></g>
<g id="note-culture2"><line class="tl" x1="583" y1="520" x2="583" y2="526"/><rect class="an" x="539" y="498" width="93" height="22" rx="2" fill="#b8bcbc"/><text class="at" x="542" y="505">Reduces the need for maps that use</text><text class="at" x="542" y="510.5">the centre of the feature's location as</text><text class="at" x="542" y="516">the point of the placed label</text></g>
<g id="note-culture3"><line class="tl" x1="437" y1="519" x2="437" y2="515"/><rect class="an" x="411" y="519" width="54" height="18" rx="2" fill="#b8bcbc"/><text class="at" x="414" y="526">Handles multi-valued</text><text class="at" x="414" y="532">artist fields</text></g>

<g id="r-zones" transform="translate(670,474)"><rect class="rd" x="3" y="-4" width="47" height="8" rx="2"/><circle class="k" cx="44" r="2.6"/><circle class="ci" r="6.5"/><rect class="ic" x="-2.5" y="-2" width="3.5" height="4"/><text class="n" x="9" y="1.7">Zones</text><rect class="g" x="48.8" y="-1.5" width="2.5" height="3"/><g transform="translate(6,4.5)"><rect class="ro" width="37" height="21"/><rect class="g" x="36" y="2" width="2.5" height="3"/><rect class="g" x="36" y="9" width="2.5" height="3"/><rect class="py" x="36" y="16" width="2.5" height="3"/><text class="a" x="2" y="5">ZoneName<tspan x="2" dy="7">ZoneCategory</tspan><tspan x="2" dy="7">ZoningDistrict</tspan></text></g></g>
<g id="w-zones" transform="translate(767,474)"><rect class="wr" y="-4" width="45" height="8" rx="2"/><circle class="k" cx="41" r="2.6"/><circle class="ci" cx="49" r="6.5"/><rect class="ic" x="48" y="-2" width="3.5" height="4"/><text class="n" x="6" y="1.7">Zones</text><rect class="g" x="-1.5" y="-1.5" width="2.5" height="3"/><g transform="translate(5,4.5)"><rect class="ro" width="40" height="14"/><rect class="pg" x="-1.5" width="2.5" height="14"/><text class="a" x="3" y="5">ZoneName<tspan x="3" dy="7">ZoneCategory</tspan></text></g></g>
<g id="t-creator2" transform="translate(669,522)"><rect class="th" x="3" y="-4" width="48" height="8" rx="2"/><circle class="kt" cx="45" r="2.6"/><circle class="cb" r="6.5"/><text class="n" x="9" y="1.7">Creator_2</text><g transform="translate(7,5)"><rect class="bo" width="37" height="7"/><rect class="pg" x="36" width="2.5" height="7"/><text class="a" x="5" y="5">Created</text></g></g>
<g id="w-dummy-zoning" transform="translate(767,530)"><rect class="wr" y="-4" width="45" height="8" rx="2"/><circle class="k" cx="41" r="2.6"/><circle class="ci" cx="49" r="6.5"/><rect class="ic" x="48" y="-2" width="3.5" height="4"/><text class="n" x="6" y="1.7">Dummy</text><rect class="g" x="-1.5" y="-1.5" width="2.5" height="3"/><g transform="translate(5,4.5)"><rect class="ro" width="40" height="21"/><rect class="pm" x="-1.5" y="2" width="2.5" height="3"/><rect class="pr" x="-1.5" y="9" width="2.5" height="3"/><rect class="pr" x="-1.5" y="16" width="2.5" height="3"/><text class="a" x="3" y="5">fme_geometry...<tspan x="3" dy="7">fme_type...</tspan><tspan x="3" dy="7">fme_feature...</tspan></text></g></g>

<g id="r-zones2021" transform="translate(45,627)"><rect class="rd" x="3" y="-4" width="49" height="8" rx="2"/><circle class="k" cx="46" r="2.6"/><circle class="ci" r="6.5"/><rect class="ic" x="-2.5" y="-2" width="3.5" height="4"/><text class="n" x="9" y="1.7">Zones2021</text><rect class="g" x="50.8" y="-1.5" width="2.5" height="3"/><g transform="translate(8,4.5)"><rect class="ro" width="35" height="28"/><text class="a" x="2" y="5">ID<tspan x="2" dy="7">Zone</tspan><tspan x="2" dy="7">Name</tspan><tspan x="2" dy="7">Notes</tspan></text></g></g>
<g id="t-attrkeeper" transform="translate(115,622)"><rect class="th" width="53" height="8" rx="2"/><circle class="kt" cx="48" cy="4" r="2.6"/><text class="n" x="4" y="5.7">AttributeKeeper_3</text><rect class="g" x="-1.5" y="2.5" width="2.5" height="3"/><g transform="translate(6,9)"><rect class="bo" width="41" height="7"/><rect class="pg" x="40" width="2.5" height="7"/><text class="a" x="5" y="5">Output</text><rect class="ro" y="7" width="41" height="35"/><rect class="py" x="40" y="9" width="2.5" height="3"/><rect class="pg" x="40" y="14" width="2.5" height="28"/><text class="a" x="2" y="12">ID<tspan x="2" dy="7">Zone</tspan><tspan x="2" dy="7">Name</tspan><tspan x="2" dy="7">Type</tspan><tspan x="2" dy="7">Notes</tspan></text></g></g>
<g id="w-zones2021" transform="translate(187,634)"><rect class="wr" y="-4" width="46" height="8" rx="2"/><circle class="k" cx="42" r="2.6"/><circle class="ci" cx="50" r="6.5"/><rect class="ic" x="49" y="-2" width="3.5" height="4"/><text class="n" x="6" y="1.7">Zones2021</text><rect class="g" x="-1.5" y="-1.5" width="2.5" height="3"/><g transform="translate(5,4.5)"><rect class="ro" width="39" height="28"/><rect class="pg" x="-1.5" width="2.5" height="28"/><text class="a" x="3" y="5">ID<tspan x="3" dy="7">Zone</tspan><tspan x="3" dy="7">Name</tspan><tspan x="3" dy="7">Notes</tspan></text></g></g>
<g id="note-ezones"><rect class="an" x="244" y="645" width="79" height="23" rx="2" fill="#a9cbcc"/><text class="at" x="247" y="652">Emergency zones are taken from the</text><text class="at" x="247" y="658">Emergency Management dataset and</text><text class="at" x="247" y="664">aren't in the boundary set</text></g>

<g id="r-firehalls" transform="translate(50,717)"><rect class="rd" x="3" y="-4" width="50" height="8" rx="2"/><circle class="k" cx="47" r="2.6"/><circle class="ci" r="6.5"/><rect class="ic" x="-2.5" y="-2" width="3.5" height="4"/><text class="n" x="9" y="1.7">FireHalls</text><rect class="g" x="51.8" y="-1.5" width="2.5" height="3"/><g transform="translate(8,4.5)"><rect class="ro" width="37" height="63"/><rect class="pg" x="36" width="2.5" height="63"/><text class="a" x="2" y="5">FacilityName<tspan x="2" dy="7">Address</tspan><tspan x="2" dy="7">Phone</tspan><tspan x="2" dy="7">FacilityType</tspan><tspan x="2" dy="7">Website</tspan><tspan x="2" dy="7">Latitude</tspan><tspan x="2" dy="7">Longitude</tspan><tspan x="2" dy="7">Hours</tspan><tspan x="2" dy="7">Notes</tspan></text></g></g>
<g id="w-firehalls" transform="translate(227,717)"><rect class="wr" y="-4" width="43" height="8" rx="2"/><circle class="k" cx="39" r="2.6"/><circle class="ci" cx="47" r="6.5"/><rect class="ic" x="46" y="-2" width="3.5" height="4"/><text class="n" x="6" y="1.7">FireHalls</text><rect class="g" x="-1.5" y="-1.5" width="2.5" height="3"/><g transform="translate(3,4.5)"><rect class="ro" width="39" height="63"/><rect class="pg" x="-1.5" width="2.5" height="63"/><text class="a" x="3" y="5">FacilityName<tspan x="3" dy="7">Address</tspan><tspan x="3" dy="7">Phone</tspan><tspan x="3" dy="7">FacilityType</tspan><tspan x="3" dy="7">Website</tspan><tspan x="3" dy="7">Latitude</tspan><tspan x="3" dy="7">Longitude</tspan><tspan x="3" dy="7">Hours</tspan><tspan x="3" dy="7">Notes</tspan></text></g></g>
<g id="w-firehalls2" transform="translate(323,802)"><rect class="wr" y="-4" width="45" height="8" rx="2"/><circle class="k" cx="41" r="2.6"/><circle class="ci" cx="49" r="6.5"/><rect class="ic" x="48" y="-2" width="3.5" height="4"/><text class="n" x="6" y="1.7">FireHalls</text><rect class="g" x="-1.5" y="-1.5" width="2.5" height="3"/><g transform="translate(5,4.5)"><rect class="ro" width="39" height="63"/><rect class="pg" x="-1.5" width="2.5" height="63"/><text class="a" x="3" y="5">FacilityName<tspan x="3" dy="7">Address</tspan><tspan x="3" dy="7">Phone</tspan><tspan x="3" dy="7">FacilityType</tspan><tspan x="3" dy="7">Website</tspan><tspan x="3" dy="7">Latitude</tspan><tspan x="3" dy="7">Longitude</tspan><tspan x="3" dy="7">Hours</tspan><tspan x="3" dy="7">Notes</tspan></text></g></g>
<g id="note-ef1"><rect class="an" x="188" y="833" width="55" height="18" rx="2" fill="#d9ac8c"/><text class="at" x="191" y="840">It is mostly everyone's</text><text class="at" x="191" y="846">favourite station</text></g>
<g id="t-neighbor1" transform="translate(193,857)"><rect class="th" width="52" height="8" rx="2"/><circle class="kt" cx="47" cy="4" r="2.6"/><text class="n" x="3" y="5.7">NeighborFinder</text><g transform="translate(6,9)"><rect class="bo" width="40" height="21"/><rect class="g" x="-1.5" y="2" width="2.5" height="3"/><rect class="pr" x="-1.5" y="9" width="2.5" height="3"/><rect class="pg" x="39" y="14" width="2.5" height="7"/><text class="a" x="4" y="5">Base<tspan x="4" dy="7">UnmatchedCand...</tspan><tspan x="4" dy="7">MatchedBase</tspan></text></g></g>
<g id="note-ef2"><line class="tl" x1="275" y1="860" x2="275" y2="865"/><rect class="an" x="255" y="843" width="40" height="17" rx="2" fill="#d9ac8c"/><text class="at" x="258" y="850">Use combined</text><text class="at" x="258" y="856">service area</text></g>
<g id="t-clipper" transform="translate(256,865)"><rect class="th" width="52" height="8" rx="2"/><circle class="kt" cx="47" cy="4" r="2.6"/><text class="n" x="4" y="5.7">Clipper</text><g transform="translate(6,8)"><rect class="ro" width="40" height="14"/><rect class="pg" x="-1.5" width="2.5" height="14"/><text class="a" x="3" y="5">Clipper<tspan x="3" dy="7">Clippee</tspan></text><rect class="bo" y="14" width="40" height="21"/><rect class="g" x="39" y="16" width="2.5" height="3"/><rect class="py" x="39" y="23" width="2.5" height="3"/><rect class="py" x="39" y="30" width="2.5" height="3"/><text class="a" x="4" y="19">Inside<tspan x="4" dy="7">Outside</tspan><tspan x="4" dy="7">&lt;Rejected&gt;</tspan></text></g></g>
<g id="w-regional" transform="translate(323,891)"><rect class="wr" y="-4" width="45" height="8" rx="2"/><circle class="k" cx="41" r="2.6"/><circle class="ci" cx="49" r="6.5"/><rect class="ic" x="48" y="-2" width="3.5" height="4"/><text class="n" x="6" y="1.7">RegionalServ...</text><rect class="g" x="-1.5" y="-1.5" width="2.5" height="3"/><g transform="translate(5,4.5)"><rect class="ro" width="39" height="28"/><rect class="pg" x="-1.5" width="2.5" height="28"/><text class="a" x="3" y="5">FacilityName<tspan x="3" dy="7">Address</tspan><tspan x="3" dy="7">Phone</tspan><tspan x="3" dy="7">FacilityType</tspan></text></g></g>
<g id="r-jurisdiction" transform="translate(191,906)"><rect class="rd" x="3" y="-4" width="48" height="8" rx="2"/><circle class="k" cx="45" r="2.6"/><circle class="ci" r="6.5"/><rect class="ic" x="-2.5" y="-2" width="3.5" height="4"/><text class="n" x="9" y="1.7">Jurisdiction...</text><rect class="g" x="49.8" y="-1.5" width="2.5" height="3"/></g>
<g id="note-ef3"><line class="tl" x1="143" y1="920" x2="143" y2="925"/><rect class="an" x="118" y="903" width="50" height="17" rx="2" fill="#d9ac8c"/><text class="at" x="121" y="910">Flag the regional or</text><text class="at" x="121" y="916">municipal services</text></g>
<g id="t-tester" transform="translate(123,925)"><rect class="th" width="52" height="8" rx="2"/><circle class="kt" cx="47" cy="4" r="2.6"/><text class="n" x="4" y="5.7">Tester</text><rect class="g" x="-1.5" y="2.5" width="2.5" height="3"/><g transform="translate(6,8)"><rect class="bo" width="40" height="14"/><rect class="pg" x="39" width="2.5" height="14"/><text class="a" x="5" y="5">Passed<tspan x="5" dy="7">Failed</tspan></text></g></g>
<g id="t-neighbor2" transform="translate(193,925)"><rect class="th" width="52" height="8" rx="2"/><circle class="kt" cx="47" cy="4" r="2.6"/><text class="n" x="3" y="5.7">NeighborFinder_2</text><g transform="translate(6,9)"><rect class="bo" width="40" height="21"/><rect class="g" x="-1.5" y="2" width="2.5" height="3"/><rect class="pr" x="-1.5" y="9" width="2.5" height="3"/><rect class="pg" x="39" y="14" width="2.5" height="7"/><text class="a" x="4" y="5">Base<tspan x="4" dy="7">UnmatchedCand...</tspan><tspan x="4" dy="7">MatchedBase</tspan></text></g></g>
<g id="t-clipper2" transform="translate(256,917)"><rect class="th" width="52" height="8" rx="2"/><circle class="kt" cx="47" cy="4" r="2.6"/><text class="n" x="4" y="5.7">Clipper_2</text><g transform="translate(6,8)"><rect class="ro" width="40" height="14"/><rect class="pg" x="-1.5" width="2.5" height="14"/><text class="a" x="3" y="5">Clipper<tspan x="3" dy="7">Clippee</tspan></text><rect class="bo" y="14" width="40" height="21"/><rect class="g" x="39" y="16" width="2.5" height="3"/><rect class="py" x="39" y="23" width="2.5" height="3"/><rect class="py" x="39" y="30" width="2.5" height="3"/><text class="a" x="4" y="19">Inside<tspan x="4" dy="7">Outside</tspan><tspan x="4" dy="7">&lt;Rejected&gt;</tspan></text></g></g>
<g id="w-local" transform="translate(323,942)"><rect class="wr" y="-4" width="45" height="8" rx="2"/><circle class="k" cx="41" r="2.6"/><circle class="ci" cx="49" r="6.5"/><rect class="ic" x="48" y="-2" width="3.5" height="4"/><text class="n" x="6" y="1.7">LocalService...</text><rect class="g" x="-1.5" y="-1.5" width="2.5" height="3"/><g transform="translate(5,4.5)"><rect class="ro" width="39" height="28"/><rect class="pg" x="-1.5" width="2.5" height="28"/><text class="a" x="3" y="5">FacilityName<tspan x="3" dy="7">Address</tspan><tspan x="3" dy="7">Phone</tspan><tspan x="3" dy="7">FacilityType</tspan></text></g></g>
<g id="t-tester2" transform="translate(123,976)"><rect class="th" width="52" height="8" rx="2"/><circle class="kt" cx="47" cy="4" r="2.6"/><text class="n" x="4" y="5.7">Tester_2</text><rect class="g" x="-1.5" y="2.5" width="2.5" height="3"/><g transform="translate(6,8)"><rect class="bo" width="40" height="14"/><rect class="g" x="39" y="2" width="2.5" height="3"/><rect class="py" x="39" y="9" width="2.5" height="3"/><text class="a" x="5" y="5">Passed<tspan x="5" dy="7">Failed</tspan></text></g></g>
<g id="t-neighbor3" transform="translate(193,976)"><rect class="th" width="52" height="8" rx="2"/><circle class="kt" cx="47" cy="4" r="2.6"/><text class="n" x="3" y="5.7">NeighborFinder_3</text><g transform="translate(6,9)"><rect class="bo" width="40" height="21"/><rect class="g" x="-1.5" y="2" width="2.5" height="3"/><rect class="pr" x="-1.5" y="9" width="2.5" height="3"/><rect class="pg" x="39" y="14" width="2.5" height="7"/><text class="a" x="4" y="5">Base<tspan x="4" dy="7">UnmatchedCand...</tspan><tspan x="4" dy="7">MatchedBase</tspan></text></g></g>
<g id="t-clipper3" transform="translate(256,967)"><rect class="th" width="52" height="8" rx="2"/><circle class="kt" cx="47" cy="4" r="2.6"/><text class="n" x="4" y="5.7">Clipper_3</text><g transform="translate(6,8)"><rect class="ro" width="40" height="14"/><rect class="pg" x="-1.5" width="2.5" height="14"/><text class="a" x="3" y="5">Clipper<tspan x="3" dy="7">Clippee</tspan></text><rect class="bo" y="14" width="40" height="21"/><rect class="g" x="39" y="16" width="2.5" height="3"/><rect class="py" x="39" y="23" width="2.5" height="3"/><rect class="py" x="39" y="30" width="2.5" height="3"/><text class="a" x="4" y="19">Inside<tspan x="4" dy="7">Outside</tspan><tspan x="4" dy="7">&lt;Rejected&gt;</tspan></text></g></g>
<g id="w-mobile" transform="translate(323,994)"><rect class="wr" y="-4" width="45" height="8" rx="2"/><circle class="k" cx="41" r="2.6"/><circle class="ci" cx="49" r="6.5"/><rect class="ic" x="48" y="-2" width="3.5" height="4"/><text class="n" x="6" y="1.7">MobileServi...</text><rect class="g" x="-1.5" y="-1.5" width="2.5" height="3"/><g transform="translate(5,4.5)"><rect class="ro" width="39" height="28"/><rect class="pg" x="-1.5" width="2.5" height="28"/><text class="a" x="3" y="5">FacilityName<tspan x="3" dy="7">Address</tspan><tspan x="3" dy="7">Phone</tspan><tspan x="3" dy="7">FacilityType</tspan></text></g></g>
<g id="note-ef4"><line class="tl" x1="147" y1="1005" x2="147" y2="998"/><rect class="an" x="126" y="1005" width="43" height="18" rx="2" fill="#d9ac8c"/><text class="at" x="129" y="1012">Flag the area with</text><text class="at" x="129" y="1018">mobile stations</text></g>

<g id="r-basepoints" transform="translate(418,609)"><rect class="rd" x="3" y="-4" width="49" height="8" rx="2"/><circle class="k" cx="46" r="2.6"/><circle class="ci" r="6.5"/><rect class="ic" x="-2.5" y="-2" width="3.5" height="4"/><text class="n" x="9" y="1.7">Basepoints</text><rect class="g" x="50.8" y="-1.5" width="2.5" height="3"/></g>
<g id="t-counter" transform="translate(487,606)"><rect class="th" width="53" height="8" rx="2"/><circle class="kt" cx="48" cy="4" r="2.6"/><text class="n" x="4" y="5.7">Counter</text><rect class="g" x="-1.5" y="2.5" width="2.5" height="3"/><g transform="translate(6,8)"><rect class="bo" width="40" height="7"/><rect class="pg" x="39" width="2.5" height="7"/><text class="a" x="5" y="5">Output</text></g></g>
<g id="t-statcalc" transform="translate(488,630)"><rect class="th" width="54" height="8" rx="2"/><circle class="kt" cx="49" cy="4" r="2.6"/><text class="n" x="3" y="5.7" textLength="44" lengthAdjust="spacingAndGlyphs">StatisticsCalculator</text><rect class="g" x="-1.5" y="2.5" width="2.5" height="3"/><g transform="translate(6,8)"><rect class="bo" width="41" height="21"/><rect class="py" x="40" y="2" width="2.5" height="3"/><rect class="g" x="40" y="9" width="2.5" height="3"/><rect class="py" x="40" y="16" width="2.5" height="3"/><text class="a" x="5" y="5">Summary<tspan x="5" dy="7">Complete</tspan><tspan x="5" dy="7">&lt;Rejected&gt;</tspan></text></g></g>
<g id="t-testfilter" transform="translate(553,645)"><rect class="th" width="52" height="8" rx="2"/><circle class="kt" cx="47" cy="4" r="2.6"/><text class="n" x="4" y="5.7">TestFilter</text><rect class="g" x="-1.5" y="2.5" width="2.5" height="3"/><g transform="translate(6,8)"><rect class="bo" width="40" height="21"/><rect class="pg" x="39" width="2.5" height="21"/><text class="a" x="5" y="5">First Reading<tspan x="5" dy="7">Last Reading</tspan><tspan x="5" dy="7">&lt;Unfiltered&gt;</tspan></text></g></g>
<g id="t-concat1" transform="translate(623,633)"><rect class="th" width="52" height="8" rx="2"/><circle class="kt" cx="47" cy="4" r="2.6"/><text class="n" x="3" y="5.7">StringConcatenat...</text><rect class="g" x="-1.5" y="2.5" width="2.5" height="3"/><g transform="translate(5,8)"><rect class="bo" width="40" height="7"/><rect class="pg" x="39" width="2.5" height="7"/><text class="a" x="5" y="5">Output</text></g></g>
<g id="t-concat2" transform="translate(623,661)"><rect class="th" width="52" height="8" rx="2"/><circle class="kt" cx="47" cy="4" r="2.6"/><text class="n" x="3" y="5.7">StringConcatenat...</text><rect class="g" x="-1.5" y="2.5" width="2.5" height="3"/><g transform="translate(5,8)"><rect class="bo" width="40" height="7"/><rect class="pg" x="39" width="2.5" height="7"/><text class="a" x="5" y="5">Output</text></g></g>
<g id="t-concat3" transform="translate(623,688)"><rect class="th" width="52" height="8" rx="2"/><circle class="kt" cx="47" cy="4" r="2.6"/><text class="n" x="3" y="5.7" textLength="44" lengthAdjust="spacingAndGlyphs">StringConcatenator</text><rect class="g" x="-1.5" y="2.5" width="2.5" height="3"/><g transform="translate(5,8)"><rect class="bo" width="40" height="7"/><rect class="pg" x="39" width="2.5" height="7"/><text class="a" x="5" y="5">Output</text></g></g>
<g id="t-sorter" transform="translate(699,668)"><rect class="th" width="54" height="8" rx="2"/><circle class="kt" cx="49" cy="4" r="2.6"/><text class="n" x="4" y="5.7">Sorter</text><rect class="g" x="-1.5" y="2.5" width="2.5" height="3"/><g transform="translate(6,8)"><rect class="bo" width="42" height="7"/><rect class="pg" x="41" width="2.5" height="7"/><text class="a" x="5" y="5">Sorted</text><rect class="ro" y="7" width="42" height="49"/><rect class="py" x="41" y="9" width="2.5" height="3"/><rect class="py" x="41" y="16" width="2.5" height="3"/><rect class="py" x="41" y="23" width="2.5" height="3"/><rect class="py" x="41" y="30" width="2.5" height="3"/><rect class="py" x="41" y="37" width="2.5" height="3"/><rect class="py" x="41" y="44" width="2.5" height="3"/><rect class="g" x="41" y="51" width="2.5" height="3"/><text class="a" x="2" y="12">_min_time<tspan x="2" dy="7">_max_time</tspan><tspan x="2" dy="7">_first</tspan><tspan x="2" dy="7">_last_reading</tspan><tspan x="2" dy="7">_count</tspan><tspan x="2" dy="7">_sum</tspan><tspan x="2" dy="7">FeatureCount</tspan></text></g></g>
<g id="w-gpsline" transform="translate(775,680)"><rect class="wr" y="-4" width="48" height="8" rx="2"/><circle class="k" cx="44" r="2.6"/><circle class="ci" cx="52" r="6.5"/><rect class="ic" x="51" y="-2" width="3.5" height="4"/><text class="n" x="6" y="1.7">GPS_Line</text><rect class="g" x="-1.5" y="-1.5" width="2.5" height="3"/></g>

<g id="r-signals" transform="translate(435,835)"><rect class="rd" x="3" y="-4" width="49" height="8" rx="2"/><circle class="k" cx="46" r="2.6"/><circle class="ci" r="6.5"/><rect class="ic" x="-2.5" y="-2" width="3.5" height="4"/><text class="n" x="9" y="1.7">TrafficSignals</text><rect class="g" x="50.8" y="-1.5" width="2.5" height="3"/><g transform="translate(8,4.5)"><rect class="ro" width="36" height="21"/><text class="a" x="2" y="5">SignalType<tspan x="2" dy="7">SignalMode</tspan><tspan x="2" dy="7">Signals</tspan></text></g></g>
<g id="t-styler-ts1" transform="translate(525,803)"><rect class="th" width="53" height="8" rx="2"/><circle class="kt" cx="48" cy="4" r="2.6"/><text class="n" x="4" y="5.7">OGCStyler_8</text><rect class="g" x="-1.5" y="2.5" width="2.5" height="3"/><g transform="translate(6,8)"><rect class="bo" width="41" height="7"/><rect class="pg" x="40" width="2.5" height="7"/><text class="a" x="5" y="5">Styled</text></g></g>
<g id="t-lpr" transform="translate(525,832)"><rect class="th" width="53" height="8" rx="2"/><circle class="kt" cx="48" cy="4" r="2.6"/><text class="n" x="3" y="5.7">LabelPointReplacer</text><rect class="g" x="-1.5" y="2.5" width="2.5" height="3"/><g transform="translate(6,8)"><rect class="bo" width="41" height="14"/><rect class="g" x="40" y="2" width="2.5" height="3"/><rect class="py" x="40" y="9" width="2.5" height="3"/><text class="a" x="5" y="5">Labeled<tspan x="5" dy="7">&lt;Rejected&gt;</tspan></text></g></g>
<g id="t-offsetter" transform="translate(585,841)"><rect class="th" width="53" height="8" rx="2"/><circle class="kt" cx="48" cy="4" r="2.6"/><text class="n" x="4" y="5.7">Offsetter</text><rect class="g" x="-1.5" y="2.5" width="2.5" height="3"/><g transform="translate(6,8)"><rect class="bo" width="40" height="7"/><rect class="pg" x="39" width="2.5" height="7"/><text class="a" x="5" y="5">Offset</text></g></g>
<g id="t-styler-ts2" transform="translate(525,880)"><rect class="th" width="53" height="8" rx="2"/><circle class="kt" cx="48" cy="4" r="2.6"/><text class="n" x="4" y="5.7">OGCStyler</text><rect class="g" x="-1.5" y="2.5" width="2.5" height="3"/><g transform="translate(6,8)"><rect class="bo" width="41" height="7"/><rect class="pg" x="40" width="2.5" height="7"/><text class="a" x="5" y="5">Styled</text></g></g>
<g id="w-signals1" transform="translate(657,815)"><rect class="wr" y="-4" width="45" height="8" rx="2"/><circle class="k" cx="41" r="2.6"/><circle class="ci" cx="49" r="6.5"/><rect class="ic" x="48" y="-2" width="3.5" height="4"/><text class="n" x="6" y="1.7">TrafficSignals</text><rect class="g" x="-1.5" y="-1.5" width="2.5" height="3"/></g>
<g id="w-signals2" transform="translate(657,891)"><rect class="wr" y="-4" width="45" height="8" rx="2"/><circle class="k" cx="41" r="2.6"/><circle class="ci" cx="49" r="6.5"/><rect class="ic" x="48" y="-2" width="3.5" height="4"/><text class="n" x="6" y="1.7">TrafficSignals</text><rect class="g" x="-1.5" y="-1.5" width="2.5" height="3"/></g>
<g id="note-ts1"><line class="tl" x1="551" y1="795" x2="551" y2="803"/><rect class="an" x="524" y="783" width="59" height="12" rx="2" fill="#b0a48e"/><text class="at" x="528" y="790.5">Create a circle marker</text></g>
<g id="note-ts2"><line class="tl" x1="551" y1="858" x2="551" y2="854"/><rect class="an" x="533" y="858" width="35" height="11" rx="2" fill="#b0a48e"/><text class="at" x="537" y="865">Rotate label</text></g>
<g id="note-ts3"><line class="tl" x1="548" y1="901" x2="548" y2="895"/><rect class="an" x="519" y="901" width="59" height="12" rx="2" fill="#b0a48e"/><text class="at" x="523" y="908.5">Create the signal icons</text></g>
<g id="note-ts4"><line class="tl" x1="686" y1="805" x2="686" y2="811"/><rect class="an" x="676" y="793" width="20" height="12" rx="2" fill="#b0a48e"/><text class="at" x="680" y="800.5">Icon</text></g>
<g id="note-ts5"><rect class="an" x="661" y="827" width="48" height="18" rx="2" fill="#b0a48e"/><text class="at" x="664" y="834">Lump everything</text><text class="at" x="664" y="840">together, and style</text></g>
<g id="note-ts6"><rect class="an" x="660" y="851" width="57" height="29" rx="2" fill="#b0a48e"/><text class="at" x="663" y="858">Both the symbol and</text><text class="at" x="663" y="864">the label must be</text><text class="at" x="663" y="870">styled separately so</text><text class="at" x="663" y="876">each is its own layer</text></g>
<g id="note-ts7"><line class="tl" x1="686" y1="903" x2="686" y2="895"/><rect class="an" x="676" y="903" width="20" height="13" rx="2" fill="#b0a48e"/><text class="at" x="679" y="911">Label</text></g>

<g id="r-lighting" transform="translate(433,991)"><rect class="rd" x="3" y="-4" width="49" height="8" rx="2"/><circle class="k" cx="46" r="2.6"/><circle class="ci" r="6.5"/><rect class="ic" x="-2.5" y="-2" width="3.5" height="4"/><text class="n" x="9" y="1.7">StreetLighti...</text><rect class="g" x="50.8" y="-1.5" width="2.5" height="3"/><g transform="translate(8,4.5)"><rect class="ro" width="36" height="14"/><text class="a" x="2" y="5">Height<tspan x="2" dy="7">Status</tspan></text></g></g>
<g id="t-styler-sl1" transform="translate(526,952)"><rect class="th" width="51" height="8" rx="2"/><circle class="kt" cx="46" cy="4" r="2.6"/><text class="n" x="4" y="5.7">OGCStyler_9</text><rect class="g" x="-1.5" y="2.5" width="2.5" height="3"/><g transform="translate(5,9)"><rect class="bo" width="41" height="7"/><rect class="pg" x="40" width="2.5" height="7"/><text class="a" x="5" y="5">Styled</text></g></g>
<g id="t-lpr2" transform="translate(526,987)"><rect class="th" width="51" height="8" rx="2"/><circle class="kt" cx="46" cy="4" r="2.6"/><text class="n" x="3" y="5.7">LabelPointRepla...</text><rect class="g" x="-1.5" y="2.5" width="2.5" height="3"/><g transform="translate(5,8)"><rect class="bo" width="41" height="14"/><rect class="g" x="40" y="2" width="2.5" height="3"/><rect class="py" x="40" y="9" width="2.5" height="3"/><text class="a" x="5" y="5">Labeled<tspan x="5" dy="7">&lt;Rejected&gt;</tspan></text></g></g>
<g id="t-offsetter2" transform="translate(526,1018)"><rect class="th" width="51" height="8" rx="2"/><circle class="kt" cx="46" cy="4" r="2.6"/><text class="n" x="4" y="5.7">Offsetter_2</text><rect class="g" x="-1.5" y="2.5" width="2.5" height="3"/><g transform="translate(5,9)"><rect class="bo" width="41" height="7"/><rect class="pg" x="40" width="2.5" height="7"/><text class="a" x="5" y="5">Offset</text></g></g>
<g id="t-styler-sl2" transform="translate(526,1052)"><rect class="th" width="51" height="8" rx="2"/><circle class="kt" cx="46" cy="4" r="2.6"/><text class="n" x="4" y="5.7">OGCStyler_10</text><rect class="g" x="-1.5" y="2.5" width="2.5" height="3"/><g transform="translate(5,9)"><rect class="bo" width="41" height="7"/><rect class="pg" x="40" width="2.5" height="7"/><text class="a" x="5" y="5">Styled</text></g></g>
<g id="w-lighting1" transform="translate(617,963)"><rect class="wr" y="-4" width="45" height="8" rx="2"/><circle class="k" cx="41" r="2.6"/><circle class="ci" cx="49" r="6.5"/><rect class="ic" x="48" y="-2" width="3.5" height="4"/><text class="n" x="6" y="1.7">StreetLighti...</text><rect class="g" x="-1.5" y="-1.5" width="2.5" height="3"/><g transform="translate(5,4.5)"><rect class="ro" width="38" height="14"/><rect class="pg" x="-1.5" width="2.5" height="14"/><text class="a" x="3" y="5">Height<tspan x="3" dy="7">Status</tspan></text></g></g>
<g id="w-lighting2" transform="translate(617,1064)"><rect class="wr" y="-4" width="45" height="8" rx="2"/><circle class="k" cx="41" r="2.6"/><circle class="ci" cx="49" r="6.5"/><rect class="ic" x="48" y="-2" width="3.5" height="4"/><text class="n" x="6" y="1.7">StreetLighti...</text><rect class="g" x="-1.5" y="-1.5" width="2.5" height="3"/><g transform="translate(5,4.5)"><rect class="ro" width="38" height="14"/><rect class="pg" x="-1.5" width="2.5" height="14"/><text class="a" x="3" y="5">Height<tspan x="3" dy="7">Status</tspan></text></g></g>

<g id="r-libraries" transform="translate(923,684)"><rect class="rd" x="3" y="-4" width="47" height="8" rx="2"/><circle class="k" cx="44" r="2.6"/><circle class="ci" r="6.5"/><rect class="ic" x="-2.5" y="-2" width="3.5" height="4"/><text class="n" x="9" y="1.7">Libraries</text><rect class="g" x="48.8" y="-1.5" width="2.5" height="3"/></g>
<g id="w-libraries" transform="translate(1008,684)"><rect class="wr" y="-4" width="47" height="8" rx="2"/><circle class="k" cx="43" r="2.6"/><circle class="ci" cx="51" r="6.5"/><rect class="ic" x="50" y="-2" width="3.5" height="4"/><text class="n" x="6" y="1.7">Libraries</text><rect class="g" x="-1.5" y="-1.5" width="2.5" height="3"/></g>
<g id="r-foodvendors" transform="translate(923,702)"><rect class="rd" x="3" y="-4" width="47" height="8" rx="2"/><circle class="k" cx="44" r="2.6"/><circle class="ci" r="6.5"/><rect class="ic" x="-2.5" y="-2" width="3.5" height="4"/><text class="n" x="9" y="1.7">FoodVendors</text><rect class="g" x="48.8" y="-1.5" width="2.5" height="3"/></g>
<g id="w-foodvendors" transform="translate(1008,702)"><rect class="wr" y="-4" width="47" height="8" rx="2"/><circle class="k" cx="43" r="2.6"/><circle class="ci" cx="51" r="6.5"/><rect class="ic" x="50" y="-2" width="3.5" height="4"/><text class="n" x="6" y="1.7">FoodVendors</text><rect class="g" x="-1.5" y="-1.5" width="2.5" height="3"/></g>
<g id="r-cparks" transform="translate(923,719)"><rect class="rd" x="3" y="-4" width="47" height="8" rx="2"/><circle class="k" cx="44" r="2.6"/><circle class="ci" r="6.5"/><rect class="ic" x="-2.5" y="-2" width="3.5" height="4"/><text class="n" x="9" y="1.7">Parks</text><rect class="g" x="48.8" y="-1.5" width="2.5" height="3"/></g>
<g id="w-cparks" transform="translate(1008,719)"><rect class="wr" y="-4" width="47" height="8" rx="2"/><circle class="k" cx="43" r="2.6"/><circle class="ci" cx="51" r="6.5"/><rect class="ic" x="50" y="-2" width="3.5" height="4"/><text class="n" x="6" y="1.7">Parks</text><rect class="g" x="-1.5" y="-1.5" width="2.5" height="3"/></g>
<g id="r-transit" transform="translate(923,736)"><rect class="rd" x="3" y="-4" width="47" height="8" rx="2"/><circle class="k" cx="44" r="2.6"/><circle class="ci" r="6.5"/><rect class="ic" x="-2.5" y="-2" width="3.5" height="4"/><text class="n" x="9" y="1.7">TransitStations</text><rect class="g" x="48.8" y="-1.5" width="2.5" height="3"/></g>
<g id="w-transit" transform="translate(1008,736)"><rect class="wr" y="-4" width="47" height="8" rx="2"/><circle class="k" cx="43" r="2.6"/><circle class="ci" cx="51" r="6.5"/><rect class="ic" x="50" y="-2" width="3.5" height="4"/><text class="n" x="6" y="1.7">TransitStations</text><rect class="g" x="-1.5" y="-1.5" width="2.5" height="3"/></g>
<g id="r-community" transform="translate(923,753)"><rect class="rd" x="3" y="-4" width="47" height="8" rx="2"/><circle class="k" cx="44" r="2.6"/><circle class="ci" r="6.5"/><rect class="ic" x="-2.5" y="-2" width="3.5" height="4"/><text class="n" x="9" y="1.7">CommunityC...</text><rect class="g" x="48.8" y="-1.5" width="2.5" height="3"/></g>
<g id="w-community" transform="translate(1008,753)"><rect class="wr" y="-4" width="47" height="8" rx="2"/><circle class="k" cx="43" r="2.6"/><circle class="ci" cx="51" r="6.5"/><rect class="ic" x="50" y="-2" width="3.5" height="4"/><text class="n" x="6" y="1.7">CommunityC...</text><rect class="g" x="-1.5" y="-1.5" width="2.5" height="3"/></g>
<g id="r-garbage" transform="translate(923,771)"><rect class="rd" x="3" y="-4" width="47" height="8" rx="2"/><circle class="k" cx="44" r="2.6"/><circle class="ci" r="6.5"/><rect class="ic" x="-2.5" y="-2" width="3.5" height="4"/><text class="n" x="9" y="1.7">GarbageSch...</text><rect class="g" x="48.8" y="-1.5" width="2.5" height="3"/></g>
<g id="w-garbage" transform="translate(1008,771)"><rect class="wr" y="-4" width="47" height="8" rx="2"/><circle class="k" cx="43" r="2.6"/><circle class="ci" cx="51" r="6.5"/><rect class="ic" x="50" y="-2" width="3.5" height="4"/><text class="n" x="6" y="1.7">GarbageSch...</text><rect class="g" x="-1.5" y="-1.5" width="2.5" height="3"/></g>
<g id="r-drinking" transform="translate(923,788)"><rect class="rd" x="3" y="-4" width="47" height="8" rx="2"/><circle class="k" cx="44" r="2.6"/><circle class="ci" r="6.5"/><rect class="ic" x="-2.5" y="-2" width="3.5" height="4"/><text class="n" x="9" y="1.7">DrinkingFou...</text><rect class="g" x="48.8" y="-1.5" width="2.5" height="3"/></g>
<g id="w-drinking" transform="translate(1008,788)"><rect class="wr" y="-4" width="47" height="8" rx="2"/><circle class="k" cx="43" r="2.6"/><circle class="ci" cx="51" r="6.5"/><rect class="ic" x="50" y="-2" width="3.5" height="4"/><text class="n" x="6" y="1.7">DrinkingFou...</text><rect class="g" x="-1.5" y="-1.5" width="2.5" height="3"/></g>
<g id="r-accessible" transform="translate(923,805)"><rect class="rd" x="3" y="-4" width="47" height="8" rx="2"/><circle class="k" cx="44" r="2.6"/><circle class="ci" r="6.5"/><rect class="ic" x="-2.5" y="-2" width="3.5" height="4"/><text class="n" x="9" y="1.7">AccessiblePa...</text><rect class="g" x="48.8" y="-1.5" width="2.5" height="3"/></g>
<g id="w-accessible" transform="translate(1008,805)"><rect class="wr" y="-4" width="47" height="8" rx="2"/><circle class="k" cx="43" r="2.6"/><circle class="ci" cx="51" r="6.5"/><rect class="ic" x="50" y="-2" width="3.5" height="4"/><text class="n" x="6" y="1.7">AccessiblePa...</text><rect class="g" x="-1.5" y="-1.5" width="2.5" height="3"/></g>
</svg>
